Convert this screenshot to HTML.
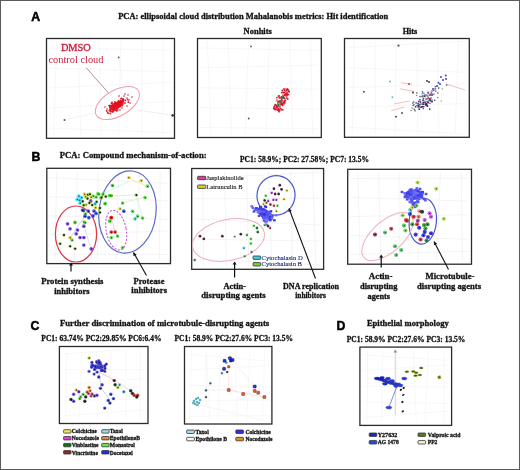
<!DOCTYPE html><html><head><meta charset="utf-8"><style>html,body{margin:0;padding:0;background:#fff;overflow:hidden}svg{display:block;will-change:transform;filter:blur(0.3px)}</style></head><body>
<svg width="520" height="470" viewBox="0 0 520 470">
<rect x="0" y="0" width="520" height="470" fill="#fff"/>
<rect x="0.5" y="0.5" width="519" height="469" fill="none" stroke="#5a5a5a" stroke-width="1"/>
<text x="31.3" y="21.3" font-size="12.3" font-weight="bold" fill="#000" font-family='"Liberation Sans", sans-serif' text-anchor="start" stroke="#000" stroke-width="0.5">A</text>
<text x="118.2" y="18.5" font-size="8.5" font-weight="bold" fill="#111" font-family='"Liberation Serif", serif' text-anchor="start" textLength="270.0" lengthAdjust="spacingAndGlyphs" stroke="#111" stroke-width="0.3">PCA: ellipsoidal cloud distribution Mahalanobis metrics: Hit identification</text>
<text x="243.6" y="34.3" font-size="8.5" font-weight="bold" fill="#111" font-family='"Liberation Serif", serif' text-anchor="start" textLength="28.2" lengthAdjust="spacingAndGlyphs" stroke="#111" stroke-width="0.3">Nonhits</text>
<text x="402.7" y="34.3" font-size="8.5" font-weight="bold" fill="#111" font-family='"Liberation Serif", serif' text-anchor="start" textLength="14.6" lengthAdjust="spacingAndGlyphs" stroke="#111" stroke-width="0.3">Hits</text>
<line x1="56.7" y1="41" x2="53.7" y2="135" stroke="#f2f2f2" stroke-width="0.6"/>
<line x1="78.0" y1="41" x2="80.8" y2="135" stroke="#f2f2f2" stroke-width="0.6"/>
<line x1="99.3" y1="41" x2="101.4" y2="135" stroke="#f2f2f2" stroke-width="0.6"/>
<line x1="120.7" y1="41" x2="118.7" y2="135" stroke="#f2f2f2" stroke-width="0.6"/>
<line x1="142.0" y1="41" x2="142.0" y2="135" stroke="#f2f2f2" stroke-width="0.6"/>
<line x1="163.3" y1="41" x2="162.9" y2="135" stroke="#f2f2f2" stroke-width="0.6"/>
<line x1="49" y1="48.0" x2="171" y2="50.1" stroke="#f2f2f2" stroke-width="0.6"/>
<line x1="49" y1="68.0" x2="171" y2="72.0" stroke="#f2f2f2" stroke-width="0.6"/>
<line x1="49" y1="88.0" x2="171" y2="82.3" stroke="#f2f2f2" stroke-width="0.6"/>
<line x1="49" y1="108.0" x2="171" y2="101.4" stroke="#f2f2f2" stroke-width="0.6"/>
<line x1="49" y1="128.0" x2="171" y2="132.7" stroke="#f2f2f2" stroke-width="0.6"/>
<rect x="46.5" y="38.5" width="128.0" height="99.8" fill="none" stroke="#2b2b2b" stroke-width="1.3"/>
<text x="60.9" y="50.6" font-size="10.4" font-weight="normal" fill="#c8203c" font-family='"Liberation Serif", serif' text-anchor="start" textLength="29.9" lengthAdjust="spacingAndGlyphs" stroke="#c8203c" stroke-width="0.35">DMSO</text>
<text x="48.4" y="63.4" font-size="10.4" font-weight="normal" fill="#c8203c" font-family='"Liberation Serif", serif' text-anchor="start" textLength="55.1" lengthAdjust="spacingAndGlyphs">control cloud</text>
<line x1="86" y1="67.5" x2="108.5" y2="93" stroke="#b07080" stroke-width="0.8" opacity="1"/>
<ellipse cx="117.4" cy="103" rx="24.3" ry="13" transform="rotate(-30 117.4 103)" fill="none" stroke="#eaa0b0" stroke-width="1.0"/>
<ellipse cx="116.5" cy="105.5" rx="8" ry="3.3" transform="rotate(-32 116.5 105.5)" fill="#e0101c"/>
<circle cx="110.2" cy="106.4" r="0.9" fill="#e82030" opacity="1"/>
<circle cx="123.5" cy="99.5" r="0.9" fill="#e82030" opacity="1"/>
<circle cx="122.4" cy="102.2" r="0.9" fill="#e0101c" opacity="1"/>
<circle cx="109.1" cy="105.6" r="0.9" fill="#e0101c" opacity="1"/>
<circle cx="112.1" cy="111.7" r="0.9" fill="#d81020" opacity="1"/>
<circle cx="110.7" cy="108.0" r="0.9" fill="#e0101c" opacity="1"/>
<circle cx="115.3" cy="103.5" r="0.9" fill="#e0101c" opacity="1"/>
<circle cx="122.9" cy="99.2" r="0.9" fill="#e0101c" opacity="1"/>
<circle cx="116.7" cy="104.2" r="0.9" fill="#e82030" opacity="1"/>
<circle cx="114.8" cy="105.5" r="0.9" fill="#e0101c" opacity="1"/>
<circle cx="117.5" cy="104.7" r="0.9" fill="#e0101c" opacity="1"/>
<circle cx="119.6" cy="103.0" r="0.9" fill="#e0101c" opacity="1"/>
<circle cx="116.6" cy="110.9" r="0.9" fill="#e82030" opacity="1"/>
<circle cx="120.6" cy="100.3" r="0.9" fill="#e0101c" opacity="1"/>
<circle cx="123.0" cy="99.9" r="0.9" fill="#d81020" opacity="1"/>
<circle cx="116.7" cy="107.4" r="0.9" fill="#e0101c" opacity="1"/>
<circle cx="120.0" cy="102.4" r="0.9" fill="#d81020" opacity="1"/>
<circle cx="116.4" cy="108.6" r="0.9" fill="#e0101c" opacity="1"/>
<circle cx="110.0" cy="107.2" r="0.9" fill="#e0101c" opacity="1"/>
<circle cx="115.7" cy="110.0" r="0.9" fill="#d81020" opacity="1"/>
<circle cx="115.3" cy="104.5" r="0.9" fill="#d81020" opacity="1"/>
<circle cx="116.2" cy="104.7" r="0.9" fill="#e0101c" opacity="1"/>
<circle cx="120.8" cy="101.9" r="0.9" fill="#d81020" opacity="1"/>
<circle cx="125.4" cy="100.3" r="0.9" fill="#d81020" opacity="1"/>
<circle cx="112.1" cy="111.4" r="0.9" fill="#d81020" opacity="1"/>
<circle cx="120.0" cy="103.6" r="0.9" fill="#e0101c" opacity="1"/>
<circle cx="120.1" cy="104.3" r="0.9" fill="#d81020" opacity="1"/>
<circle cx="115.4" cy="107.9" r="0.9" fill="#e82030" opacity="1"/>
<circle cx="118.2" cy="107.0" r="0.9" fill="#e82030" opacity="1"/>
<circle cx="114.9" cy="101.9" r="0.9" fill="#d81020" opacity="1"/>
<circle cx="127.8" cy="99.6" r="0.9" fill="#e0101c" opacity="1"/>
<circle cx="119.7" cy="106.2" r="0.9" fill="#d81020" opacity="1"/>
<circle cx="120.2" cy="101.9" r="0.9" fill="#e82030" opacity="1"/>
<circle cx="112.9" cy="107.0" r="0.9" fill="#d81020" opacity="1"/>
<circle cx="116.0" cy="109.8" r="0.9" fill="#e82030" opacity="1"/>
<circle cx="122.6" cy="104.5" r="0.9" fill="#d81020" opacity="1"/>
<circle cx="118.1" cy="105.0" r="0.9" fill="#e82030" opacity="1"/>
<circle cx="112.1" cy="107.5" r="0.9" fill="#e0101c" opacity="1"/>
<circle cx="115.7" cy="103.5" r="0.9" fill="#d81020" opacity="1"/>
<circle cx="112.6" cy="108.4" r="0.9" fill="#e0101c" opacity="1"/>
<circle cx="123.4" cy="100.5" r="0.9" fill="#d81020" opacity="1"/>
<circle cx="116.1" cy="107.0" r="0.9" fill="#e82030" opacity="1"/>
<circle cx="114.5" cy="106.1" r="0.9" fill="#d81020" opacity="1"/>
<circle cx="121.6" cy="103.7" r="0.9" fill="#e0101c" opacity="1"/>
<circle cx="122.0" cy="102.8" r="0.9" fill="#e0101c" opacity="1"/>
<circle cx="108.1" cy="113.3" r="0.9" fill="#e0101c" opacity="1"/>
<circle cx="121.9" cy="101.5" r="0.9" fill="#d81020" opacity="1"/>
<circle cx="114.6" cy="104.5" r="0.9" fill="#d81020" opacity="1"/>
<circle cx="116.9" cy="107.5" r="0.9" fill="#e0101c" opacity="1"/>
<circle cx="124.9" cy="103.0" r="0.9" fill="#e82030" opacity="1"/>
<circle cx="123.0" cy="100.4" r="0.9" fill="#d81020" opacity="1"/>
<circle cx="118.5" cy="102.9" r="0.9" fill="#d81020" opacity="1"/>
<circle cx="117.8" cy="108.8" r="0.9" fill="#e82030" opacity="1"/>
<circle cx="113.2" cy="110.7" r="0.9" fill="#d81020" opacity="1"/>
<circle cx="113.1" cy="104.0" r="0.9" fill="#d81020" opacity="1"/>
<circle cx="113.6" cy="110.1" r="0.9" fill="#d81020" opacity="1"/>
<circle cx="118.1" cy="102.6" r="0.9" fill="#e82030" opacity="1"/>
<circle cx="112.0" cy="102.5" r="0.9" fill="#d81020" opacity="1"/>
<circle cx="112.2" cy="105.4" r="0.9" fill="#e0101c" opacity="1"/>
<circle cx="109.4" cy="110.5" r="0.9" fill="#d81020" opacity="1"/>
<circle cx="113.4" cy="104.8" r="0.9" fill="#e82030" opacity="1"/>
<circle cx="110.4" cy="105.6" r="0.9" fill="#d81020" opacity="1"/>
<circle cx="117.4" cy="107.0" r="0.9" fill="#d81020" opacity="1"/>
<circle cx="113.5" cy="111.1" r="0.9" fill="#e82030" opacity="1"/>
<circle cx="113.1" cy="108.2" r="0.9" fill="#d81020" opacity="1"/>
<circle cx="111.2" cy="108.3" r="0.9" fill="#e0101c" opacity="1"/>
<circle cx="119.4" cy="105.7" r="0.9" fill="#d81020" opacity="1"/>
<circle cx="117.1" cy="105.9" r="0.9" fill="#e82030" opacity="1"/>
<circle cx="116.0" cy="104.1" r="0.9" fill="#e82030" opacity="1"/>
<circle cx="106.6" cy="110.9" r="0.9" fill="#d81020" opacity="1"/>
<circle cx="109.9" cy="106.4" r="0.9" fill="#e82030" opacity="1"/>
<circle cx="117.5" cy="110.3" r="0.9" fill="#e0101c" opacity="1"/>
<circle cx="120.7" cy="104.9" r="0.9" fill="#e82030" opacity="1"/>
<circle cx="122.0" cy="105.7" r="0.9" fill="#e0101c" opacity="1"/>
<circle cx="115.8" cy="105.2" r="0.9" fill="#d81020" opacity="1"/>
<circle cx="119.7" cy="103.1" r="0.9" fill="#e0101c" opacity="1"/>
<circle cx="128.3" cy="102.1" r="0.9" fill="#d81020" opacity="1"/>
<circle cx="117.7" cy="105.2" r="0.9" fill="#d81020" opacity="1"/>
<circle cx="114.2" cy="109.7" r="0.9" fill="#e0101c" opacity="1"/>
<circle cx="113.7" cy="106.1" r="0.9" fill="#d81020" opacity="1"/>
<circle cx="121.8" cy="102.0" r="0.9" fill="#d81020" opacity="1"/>
<circle cx="121.0" cy="98.6" r="0.9" fill="#e82030" opacity="1"/>
<circle cx="118.3" cy="102.1" r="0.9" fill="#e0101c" opacity="1"/>
<circle cx="113.0" cy="106.9" r="0.9" fill="#d81020" opacity="1"/>
<circle cx="112.6" cy="107.1" r="0.9" fill="#e82030" opacity="1"/>
<circle cx="116.8" cy="107.3" r="0.9" fill="#e0101c" opacity="1"/>
<circle cx="110.5" cy="111.2" r="0.9" fill="#e82030" opacity="1"/>
<circle cx="111.6" cy="107.7" r="0.9" fill="#e0101c" opacity="1"/>
<circle cx="111.2" cy="106.8" r="0.9" fill="#e0101c" opacity="1"/>
<circle cx="123.0" cy="100.6" r="0.9" fill="#d81020" opacity="1"/>
<circle cx="118.5" cy="100.8" r="0.9" fill="#d81020" opacity="1"/>
<circle cx="122.6" cy="103.5" r="0.9" fill="#e82030" opacity="1"/>
<circle cx="112.7" cy="107.1" r="0.9" fill="#e82030" opacity="1"/>
<circle cx="114.3" cy="108.5" r="0.9" fill="#e0101c" opacity="1"/>
<circle cx="111.7" cy="108.4" r="0.9" fill="#e82030" opacity="1"/>
<circle cx="110.3" cy="113.5" r="0.9" fill="#e0101c" opacity="1"/>
<circle cx="113.5" cy="106.1" r="0.9" fill="#d81020" opacity="1"/>
<circle cx="112.2" cy="108.1" r="0.9" fill="#d81020" opacity="1"/>
<circle cx="120.4" cy="102.1" r="0.9" fill="#d81020" opacity="1"/>
<circle cx="117.8" cy="104.9" r="0.9" fill="#e82030" opacity="1"/>
<circle cx="112.5" cy="105.9" r="0.9" fill="#d81020" opacity="1"/>
<circle cx="119.6" cy="103.7" r="0.9" fill="#d81020" opacity="1"/>
<circle cx="122.8" cy="101.6" r="0.9" fill="#d81020" opacity="1"/>
<circle cx="118.5" cy="106.9" r="0.9" fill="#e0101c" opacity="1"/>
<circle cx="118.0" cy="106.3" r="0.9" fill="#e0101c" opacity="1"/>
<circle cx="115.4" cy="104.0" r="0.9" fill="#d81020" opacity="1"/>
<circle cx="112.1" cy="106.3" r="0.9" fill="#e82030" opacity="1"/>
<circle cx="121.6" cy="98.3" r="0.9" fill="#e0101c" opacity="1"/>
<circle cx="119.5" cy="103.6" r="0.9" fill="#d81020" opacity="1"/>
<circle cx="112.7" cy="107.2" r="0.9" fill="#d81020" opacity="1"/>
<circle cx="116.6" cy="104.7" r="0.9" fill="#d81020" opacity="1"/>
<circle cx="113.5" cy="110.4" r="0.9" fill="#e82030" opacity="1"/>
<circle cx="117.3" cy="105.0" r="0.9" fill="#e82030" opacity="1"/>
<circle cx="107.7" cy="112.3" r="0.9" fill="#e82030" opacity="1"/>
<circle cx="116.2" cy="105.4" r="0.9" fill="#d81020" opacity="1"/>
<circle cx="110.1" cy="107.2" r="0.9" fill="#e82030" opacity="1"/>
<circle cx="109.8" cy="105.6" r="0.9" fill="#d81020" opacity="1"/>
<circle cx="110.3" cy="109.8" r="0.9" fill="#e82030" opacity="1"/>
<circle cx="119.2" cy="105.6" r="0.9" fill="#e0101c" opacity="1"/>
<circle cx="117.0" cy="105.2" r="0.9" fill="#d81020" opacity="1"/>
<circle cx="110.3" cy="107.4" r="0.9" fill="#d81020" opacity="1"/>
<circle cx="118.9" cy="103.1" r="0.9" fill="#d81020" opacity="1"/>
<circle cx="111.5" cy="103.5" r="0.9" fill="#d81020" opacity="1"/>
<circle cx="112.0" cy="107.5" r="0.9" fill="#e82030" opacity="1"/>
<circle cx="117.3" cy="104.0" r="0.9" fill="#e0101c" opacity="1"/>
<circle cx="117.3" cy="105.9" r="0.9" fill="#e0101c" opacity="1"/>
<circle cx="116.2" cy="105.0" r="0.9" fill="#e82030" opacity="1"/>
<circle cx="115.6" cy="106.3" r="0.9" fill="#d81020" opacity="1"/>
<circle cx="116.2" cy="104.7" r="0.9" fill="#e0101c" opacity="1"/>
<circle cx="119.9" cy="106.7" r="0.9" fill="#e0101c" opacity="1"/>
<circle cx="124.0" cy="96.0" r="0.8" fill="#d02030" opacity="1"/>
<circle cx="127.0" cy="98.0" r="0.8" fill="#d02030" opacity="1"/>
<circle cx="129.0" cy="100.0" r="0.8" fill="#d02030" opacity="1"/>
<circle cx="125.0" cy="94.0" r="0.8" fill="#d02030" opacity="1"/>
<circle cx="119.0" cy="96.0" r="0.8" fill="#d02030" opacity="1"/>
<circle cx="122.0" cy="108.0" r="0.8" fill="#d02030" opacity="1"/>
<circle cx="110.0" cy="110.0" r="0.8" fill="#d02030" opacity="1"/>
<circle cx="107.0" cy="109.0" r="0.8" fill="#d02030" opacity="1"/>
<circle cx="130.0" cy="103.0" r="0.8" fill="#d02030" opacity="1"/>
<circle cx="127.0" cy="106.0" r="0.8" fill="#d02030" opacity="1"/>
<circle cx="113.0" cy="112.0" r="0.8" fill="#d02030" opacity="1"/>
<circle cx="120.0" cy="110.0" r="0.8" fill="#d02030" opacity="1"/>
<circle cx="132.0" cy="97.0" r="0.8" fill="#d02030" opacity="1"/>
<circle cx="128.0" cy="95.0" r="0.8" fill="#d02030" opacity="1"/>
<circle cx="105.0" cy="107.0" r="0.8" fill="#d02030" opacity="1"/>
<line x1="172.7" y1="115.4" x2="138" y2="110" stroke="#e6e6e6" stroke-width="0.7" opacity="1"/>
<line x1="118.7" y1="57.4" x2="122" y2="80" stroke="#ececec" stroke-width="0.6" opacity="1"/>
<line x1="64.5" y1="120" x2="95" y2="113" stroke="#ececec" stroke-width="0.6" opacity="1"/>
<circle cx="118.7" cy="57.4" r="0.9" fill="#555" opacity="1"/>
<circle cx="64.5" cy="120.0" r="1.0" fill="#555" opacity="1"/>
<circle cx="172.7" cy="115.4" r="1.4" fill="#444" opacity="1"/>
<line x1="207.3" y1="41" x2="211.0" y2="134.5" stroke="#f2f2f2" stroke-width="0.6"/>
<line x1="228.0" y1="41" x2="231.6" y2="134.5" stroke="#f2f2f2" stroke-width="0.6"/>
<line x1="248.7" y1="41" x2="245.1" y2="134.5" stroke="#f2f2f2" stroke-width="0.6"/>
<line x1="269.3" y1="41" x2="266.0" y2="134.5" stroke="#f2f2f2" stroke-width="0.6"/>
<line x1="290.0" y1="41" x2="292.7" y2="134.5" stroke="#f2f2f2" stroke-width="0.6"/>
<line x1="310.7" y1="41" x2="312.6" y2="134.5" stroke="#f2f2f2" stroke-width="0.6"/>
<line x1="200" y1="48.0" x2="318" y2="50.3" stroke="#f2f2f2" stroke-width="0.6"/>
<line x1="200" y1="67.8" x2="318" y2="65.2" stroke="#f2f2f2" stroke-width="0.6"/>
<line x1="200" y1="87.8" x2="318" y2="89.2" stroke="#f2f2f2" stroke-width="0.6"/>
<line x1="200" y1="107.6" x2="318" y2="109.1" stroke="#f2f2f2" stroke-width="0.6"/>
<line x1="200" y1="127.5" x2="318" y2="128.7" stroke="#f2f2f2" stroke-width="0.6"/>
<rect x="197.5" y="38.5" width="123.8" height="99.0" fill="none" stroke="#2b2b2b" stroke-width="1.3"/>
<circle cx="281.7" cy="104.6" r="0.85" fill="#e0102c" opacity="1"/>
<circle cx="288.6" cy="94.5" r="0.85" fill="#e0102c" opacity="1"/>
<circle cx="282.8" cy="104.0" r="0.85" fill="#e0102c" opacity="1"/>
<circle cx="277.9" cy="109.2" r="0.85" fill="#e02040" opacity="1"/>
<circle cx="278.6" cy="110.0" r="0.85" fill="#d01028" opacity="1"/>
<circle cx="278.7" cy="108.5" r="0.85" fill="#d81030" opacity="1"/>
<circle cx="283.3" cy="96.9" r="0.85" fill="#d01028" opacity="1"/>
<circle cx="280.6" cy="102.0" r="0.85" fill="#d81030" opacity="1"/>
<circle cx="277.6" cy="110.1" r="0.85" fill="#d81030" opacity="1"/>
<circle cx="281.5" cy="98.5" r="0.85" fill="#d01028" opacity="1"/>
<circle cx="280.4" cy="104.3" r="0.85" fill="#d01028" opacity="1"/>
<circle cx="282.0" cy="97.9" r="0.85" fill="#d81030" opacity="1"/>
<circle cx="280.0" cy="102.3" r="0.85" fill="#e0102c" opacity="1"/>
<circle cx="283.5" cy="97.4" r="0.85" fill="#e02040" opacity="1"/>
<circle cx="283.0" cy="95.4" r="0.85" fill="#d01028" opacity="1"/>
<circle cx="288.3" cy="91.5" r="0.85" fill="#c01830" opacity="1"/>
<circle cx="280.6" cy="104.7" r="0.85" fill="#d81030" opacity="1"/>
<circle cx="274.1" cy="107.2" r="0.85" fill="#c01830" opacity="1"/>
<circle cx="284.8" cy="100.7" r="0.85" fill="#c01830" opacity="1"/>
<circle cx="281.4" cy="96.5" r="0.85" fill="#e0102c" opacity="1"/>
<circle cx="274.6" cy="106.4" r="0.85" fill="#d81030" opacity="1"/>
<circle cx="289.3" cy="91.8" r="0.85" fill="#e02040" opacity="1"/>
<circle cx="274.8" cy="108.8" r="0.85" fill="#d01028" opacity="1"/>
<circle cx="282.9" cy="92.3" r="0.85" fill="#c01830" opacity="1"/>
<circle cx="278.9" cy="102.6" r="0.85" fill="#e02040" opacity="1"/>
<circle cx="278.7" cy="110.1" r="0.85" fill="#e0102c" opacity="1"/>
<circle cx="284.9" cy="89.1" r="0.85" fill="#e0102c" opacity="1"/>
<circle cx="285.6" cy="95.4" r="0.85" fill="#c01830" opacity="1"/>
<circle cx="287.8" cy="98.9" r="0.85" fill="#c01830" opacity="1"/>
<circle cx="284.8" cy="95.4" r="0.85" fill="#e83050" opacity="1"/>
<circle cx="282.1" cy="104.2" r="0.85" fill="#d01028" opacity="1"/>
<circle cx="276.8" cy="107.7" r="0.85" fill="#e0102c" opacity="1"/>
<circle cx="278.0" cy="105.5" r="0.85" fill="#e02040" opacity="1"/>
<circle cx="284.0" cy="104.0" r="0.85" fill="#e02040" opacity="1"/>
<circle cx="274.6" cy="107.5" r="0.85" fill="#d81030" opacity="1"/>
<circle cx="287.0" cy="93.7" r="0.85" fill="#d01028" opacity="1"/>
<circle cx="277.9" cy="103.8" r="0.85" fill="#e02040" opacity="1"/>
<circle cx="288.9" cy="90.9" r="0.85" fill="#d81030" opacity="1"/>
<circle cx="278.7" cy="109.7" r="0.85" fill="#e0102c" opacity="1"/>
<circle cx="284.4" cy="101.6" r="0.85" fill="#d01028" opacity="1"/>
<circle cx="278.1" cy="106.6" r="0.85" fill="#d01028" opacity="1"/>
<circle cx="281.7" cy="103.3" r="0.85" fill="#d01028" opacity="1"/>
<circle cx="282.7" cy="105.3" r="0.85" fill="#d01028" opacity="1"/>
<circle cx="287.0" cy="98.3" r="0.85" fill="#e83050" opacity="1"/>
<circle cx="279.5" cy="110.9" r="0.85" fill="#e83050" opacity="1"/>
<circle cx="283.9" cy="92.6" r="0.85" fill="#e02040" opacity="1"/>
<circle cx="279.2" cy="101.2" r="0.85" fill="#e02040" opacity="1"/>
<circle cx="278.2" cy="110.0" r="0.85" fill="#e0102c" opacity="1"/>
<circle cx="287.4" cy="89.3" r="0.85" fill="#d01028" opacity="1"/>
<circle cx="277.0" cy="109.6" r="0.85" fill="#e0102c" opacity="1"/>
<circle cx="278.4" cy="96.0" r="0.85" fill="#d01028" opacity="1"/>
<circle cx="275.2" cy="109.4" r="0.85" fill="#d81030" opacity="1"/>
<circle cx="284.6" cy="98.1" r="0.85" fill="#c01830" opacity="1"/>
<circle cx="284.7" cy="98.5" r="0.85" fill="#e02040" opacity="1"/>
<circle cx="281.2" cy="109.9" r="0.85" fill="#e02040" opacity="1"/>
<circle cx="276.9" cy="97.6" r="0.85" fill="#c01830" opacity="1"/>
<circle cx="278.5" cy="109.5" r="0.85" fill="#c01830" opacity="1"/>
<circle cx="283.1" cy="101.0" r="0.85" fill="#e83050" opacity="1"/>
<circle cx="282.8" cy="109.7" r="0.85" fill="#d01028" opacity="1"/>
<circle cx="281.2" cy="103.3" r="0.85" fill="#e83050" opacity="1"/>
<circle cx="285.2" cy="100.4" r="0.85" fill="#e83050" opacity="1"/>
<circle cx="287.2" cy="92.6" r="0.85" fill="#e83050" opacity="1"/>
<circle cx="282.3" cy="90.4" r="0.85" fill="#c01830" opacity="1"/>
<circle cx="285.2" cy="94.0" r="0.85" fill="#d01028" opacity="1"/>
<circle cx="280.0" cy="97.6" r="0.85" fill="#d01028" opacity="1"/>
<circle cx="286.1" cy="93.4" r="0.85" fill="#d81030" opacity="1"/>
<circle cx="287.4" cy="94.3" r="0.85" fill="#d81030" opacity="1"/>
<circle cx="275.5" cy="104.7" r="0.85" fill="#e02040" opacity="1"/>
<circle cx="280.9" cy="103.3" r="0.85" fill="#c01830" opacity="1"/>
<circle cx="282.0" cy="100.6" r="0.85" fill="#d81030" opacity="1"/>
<circle cx="286.7" cy="97.1" r="0.85" fill="#e83050" opacity="1"/>
<circle cx="287.8" cy="89.4" r="0.85" fill="#c01830" opacity="1"/>
<circle cx="278.8" cy="109.8" r="0.85" fill="#c01830" opacity="1"/>
<circle cx="279.9" cy="106.9" r="0.85" fill="#d01028" opacity="1"/>
<circle cx="288.2" cy="89.8" r="0.85" fill="#e83050" opacity="1"/>
<circle cx="280.2" cy="103.2" r="0.85" fill="#e83050" opacity="1"/>
<circle cx="274.7" cy="107.5" r="0.85" fill="#e83050" opacity="1"/>
<circle cx="281.7" cy="92.7" r="0.85" fill="#e02040" opacity="1"/>
<circle cx="284.5" cy="90.4" r="0.85" fill="#e0102c" opacity="1"/>
<circle cx="287.1" cy="94.3" r="0.85" fill="#e83050" opacity="1"/>
<circle cx="277.0" cy="100.1" r="0.85" fill="#e83050" opacity="1"/>
<circle cx="280.8" cy="108.7" r="0.85" fill="#d81030" opacity="1"/>
<circle cx="274.5" cy="108.9" r="0.85" fill="#e83050" opacity="1"/>
<circle cx="276.6" cy="106.8" r="0.85" fill="#d01028" opacity="1"/>
<circle cx="287.2" cy="89.4" r="0.85" fill="#d01028" opacity="1"/>
<circle cx="281.3" cy="98.1" r="0.85" fill="#e0102c" opacity="1"/>
<circle cx="279.0" cy="111.7" r="0.85" fill="#d01028" opacity="1"/>
<circle cx="284.8" cy="94.5" r="0.85" fill="#d81030" opacity="1"/>
<circle cx="284.0" cy="102.8" r="0.85" fill="#d81030" opacity="1"/>
<circle cx="273.7" cy="108.5" r="0.85" fill="#d81030" opacity="1"/>
<circle cx="279.8" cy="104.4" r="0.85" fill="#c01830" opacity="1"/>
<circle cx="285.4" cy="100.5" r="0.85" fill="#d81030" opacity="1"/>
<circle cx="276.5" cy="109.1" r="0.85" fill="#e83050" opacity="1"/>
<circle cx="279.1" cy="95.9" r="0.85" fill="#d01028" opacity="1"/>
<circle cx="283.3" cy="102.8" r="0.85" fill="#d01028" opacity="1"/>
<circle cx="276.7" cy="106.7" r="0.85" fill="#d01028" opacity="1"/>
<circle cx="275.1" cy="109.5" r="0.85" fill="#e0102c" opacity="1"/>
<circle cx="286.2" cy="94.5" r="0.85" fill="#d81030" opacity="1"/>
<circle cx="275.0" cy="105.2" r="0.85" fill="#d01028" opacity="1"/>
<circle cx="277.3" cy="109.5" r="0.85" fill="#e83050" opacity="1"/>
<circle cx="279.2" cy="97.8" r="0.85" fill="#e0102c" opacity="1"/>
<circle cx="285.9" cy="91.3" r="0.85" fill="#e0102c" opacity="1"/>
<circle cx="278.5" cy="105.0" r="0.85" fill="#d01028" opacity="1"/>
<circle cx="285.0" cy="102.8" r="0.85" fill="#e0102c" opacity="1"/>
<circle cx="287.3" cy="95.5" r="0.85" fill="#d01028" opacity="1"/>
<circle cx="287.0" cy="89.4" r="0.85" fill="#d01028" opacity="1"/>
<circle cx="281.6" cy="99.3" r="0.85" fill="#d01028" opacity="1"/>
<circle cx="284.1" cy="92.4" r="0.85" fill="#d01028" opacity="1"/>
<circle cx="286.5" cy="90.0" r="0.85" fill="#c01830" opacity="1"/>
<circle cx="283.7" cy="89.0" r="0.85" fill="#d81030" opacity="1"/>
<circle cx="282.9" cy="97.3" r="0.8" fill="#1a6060" opacity="1"/>
<circle cx="278.9" cy="101.8" r="0.8" fill="#3a8040" opacity="1"/>
<circle cx="281.9" cy="97.2" r="0.8" fill="#3a8040" opacity="1"/>
<circle cx="282.8" cy="95.4" r="0.8" fill="#a0a020" opacity="1"/>
<circle cx="283.4" cy="96.5" r="0.8" fill="#207050" opacity="1"/>
<circle cx="277.4" cy="101.9" r="0.8" fill="#3a8040" opacity="1"/>
<circle cx="277.5" cy="104.6" r="0.8" fill="#a0a020" opacity="1"/>
<circle cx="279.8" cy="101.7" r="0.8" fill="#a0a020" opacity="1"/>
<circle cx="276.7" cy="105.4" r="0.8" fill="#207050" opacity="1"/>
<circle cx="279.1" cy="101.7" r="0.8" fill="#207050" opacity="1"/>
<circle cx="278.6" cy="104.4" r="0.8" fill="#207050" opacity="1"/>
<circle cx="277.7" cy="106.7" r="0.8" fill="#3a8040" opacity="1"/>
<circle cx="279.6" cy="103.6" r="0.8" fill="#a0a020" opacity="1"/>
<circle cx="279.0" cy="101.4" r="0.8" fill="#1a6060" opacity="1"/>
<circle cx="282.0" cy="98.6" r="0.8" fill="#3a8040" opacity="1"/>
<circle cx="281.7" cy="102.2" r="0.8" fill="#207050" opacity="1"/>
<circle cx="283.7" cy="98.2" r="0.8" fill="#207050" opacity="1"/>
<circle cx="279.1" cy="103.2" r="0.8" fill="#c0b030" opacity="1"/>
<circle cx="280.9" cy="100.9" r="0.8" fill="#207050" opacity="1"/>
<circle cx="280.7" cy="100.7" r="0.8" fill="#3a8040" opacity="1"/>
<circle cx="279.8" cy="104.8" r="0.8" fill="#a0a020" opacity="1"/>
<circle cx="280.9" cy="101.1" r="0.8" fill="#3a8040" opacity="1"/>
<circle cx="251.0" cy="46.4" r="0.9" fill="#555" opacity="1"/>
<circle cx="248.7" cy="118.5" r="0.9" fill="#555" opacity="1"/>
<line x1="354.4" y1="41" x2="352.3" y2="134" stroke="#f2f2f2" stroke-width="0.6"/>
<line x1="375.2" y1="41" x2="375.6" y2="134" stroke="#f2f2f2" stroke-width="0.6"/>
<line x1="396.1" y1="41" x2="395.0" y2="134" stroke="#f2f2f2" stroke-width="0.6"/>
<line x1="416.9" y1="41" x2="417.7" y2="134" stroke="#f2f2f2" stroke-width="0.6"/>
<line x1="437.8" y1="41" x2="438.8" y2="134" stroke="#f2f2f2" stroke-width="0.6"/>
<line x1="458.6" y1="41" x2="455.1" y2="134" stroke="#f2f2f2" stroke-width="0.6"/>
<line x1="347" y1="47.9" x2="466" y2="41.1" stroke="#f2f2f2" stroke-width="0.6"/>
<line x1="347" y1="67.7" x2="466" y2="72.4" stroke="#f2f2f2" stroke-width="0.6"/>
<line x1="347" y1="87.5" x2="466" y2="84.1" stroke="#f2f2f2" stroke-width="0.6"/>
<line x1="347" y1="107.3" x2="466" y2="103.6" stroke="#f2f2f2" stroke-width="0.6"/>
<line x1="347" y1="127.1" x2="466" y2="134.0" stroke="#f2f2f2" stroke-width="0.6"/>
<rect x="344.5" y="38.5" width="124.8" height="98.8" fill="none" stroke="#2b2b2b" stroke-width="1.3"/>
<line x1="400.9" y1="82.8" x2="412" y2="84" stroke="#f0a0a8" stroke-width="0.7" opacity="1"/>
<line x1="399.7" y1="88.8" x2="414" y2="91.3" stroke="#f0a0a8" stroke-width="0.7" opacity="1"/>
<line x1="391.2" y1="110.6" x2="404.5" y2="107" stroke="#f0a0a8" stroke-width="0.7" opacity="1"/>
<line x1="394" y1="104" x2="410" y2="101" stroke="#f0a0a8" stroke-width="0.7" opacity="1"/>
<line x1="446" y1="84" x2="465" y2="90" stroke="#f0a0a8" stroke-width="0.7" opacity="1"/>
<circle cx="414.0" cy="104.5" r="0.8" fill="#5060c0" opacity="0.85"/>
<circle cx="411.1" cy="110.5" r="0.8" fill="#a040c0" opacity="0.85"/>
<circle cx="427.8" cy="96.5" r="0.8" fill="#6070d0" opacity="0.85"/>
<circle cx="435.3" cy="86.8" r="0.8" fill="#202050" opacity="0.85"/>
<circle cx="432.9" cy="93.6" r="0.8" fill="#d06080" opacity="0.85"/>
<circle cx="427.2" cy="105.4" r="0.8" fill="#404070" opacity="0.85"/>
<circle cx="425.5" cy="103.5" r="0.8" fill="#d06080" opacity="0.85"/>
<circle cx="431.6" cy="91.0" r="0.8" fill="#6070d0" opacity="0.85"/>
<circle cx="415.1" cy="110.7" r="0.8" fill="#202050" opacity="0.85"/>
<circle cx="413.2" cy="105.4" r="0.8" fill="#404070" opacity="0.85"/>
<circle cx="427.2" cy="95.4" r="0.8" fill="#5060c0" opacity="0.85"/>
<circle cx="446.7" cy="85.1" r="0.8" fill="#404070" opacity="0.85"/>
<circle cx="423.5" cy="98.6" r="0.8" fill="#202050" opacity="0.85"/>
<circle cx="422.5" cy="96.1" r="0.8" fill="#202050" opacity="0.85"/>
<circle cx="433.9" cy="94.3" r="0.8" fill="#5060c0" opacity="0.85"/>
<circle cx="417.3" cy="103.6" r="0.8" fill="#6070d0" opacity="0.85"/>
<circle cx="426.9" cy="99.5" r="0.8" fill="#6070d0" opacity="0.85"/>
<circle cx="421.0" cy="96.6" r="0.8" fill="#404070" opacity="0.85"/>
<circle cx="428.5" cy="98.5" r="0.8" fill="#202050" opacity="0.85"/>
<circle cx="432.5" cy="95.1" r="0.8" fill="#202050" opacity="0.85"/>
<circle cx="428.3" cy="100.8" r="0.8" fill="#6070d0" opacity="0.85"/>
<circle cx="420.2" cy="107.3" r="0.8" fill="#202050" opacity="0.85"/>
<circle cx="416.5" cy="102.9" r="0.8" fill="#5060c0" opacity="0.85"/>
<circle cx="424.0" cy="100.7" r="0.8" fill="#80c040" opacity="0.85"/>
<circle cx="419.5" cy="109.3" r="0.8" fill="#404070" opacity="0.85"/>
<circle cx="420.4" cy="100.0" r="0.8" fill="#a040c0" opacity="0.85"/>
<circle cx="413.8" cy="101.9" r="0.8" fill="#c03050" opacity="0.85"/>
<circle cx="432.2" cy="91.1" r="0.8" fill="#d06080" opacity="0.85"/>
<circle cx="428.3" cy="98.2" r="0.8" fill="#303030" opacity="0.85"/>
<circle cx="429.3" cy="95.5" r="0.8" fill="#5060c0" opacity="0.85"/>
<circle cx="419.1" cy="106.5" r="0.8" fill="#5060c0" opacity="0.85"/>
<circle cx="415.8" cy="107.2" r="0.8" fill="#d06080" opacity="0.85"/>
<circle cx="419.0" cy="109.1" r="0.8" fill="#202050" opacity="0.85"/>
<circle cx="424.6" cy="96.3" r="0.8" fill="#404070" opacity="0.85"/>
<circle cx="438.7" cy="88.1" r="0.8" fill="#202050" opacity="0.85"/>
<circle cx="419.0" cy="101.3" r="0.8" fill="#303030" opacity="0.85"/>
<circle cx="434.7" cy="100.2" r="0.8" fill="#202050" opacity="0.85"/>
<circle cx="426.0" cy="95.0" r="0.8" fill="#202050" opacity="0.85"/>
<circle cx="435.2" cy="88.9" r="0.8" fill="#303030" opacity="0.85"/>
<circle cx="423.3" cy="100.1" r="0.8" fill="#6070d0" opacity="0.85"/>
<circle cx="425.6" cy="99.1" r="0.8" fill="#d06080" opacity="0.85"/>
<circle cx="431.1" cy="98.0" r="0.8" fill="#303030" opacity="0.85"/>
<circle cx="428.9" cy="98.5" r="0.8" fill="#30a0a0" opacity="0.85"/>
<circle cx="432.0" cy="101.4" r="0.8" fill="#404070" opacity="0.85"/>
<circle cx="433.8" cy="90.5" r="0.8" fill="#303030" opacity="0.85"/>
<circle cx="418.4" cy="106.7" r="0.8" fill="#202050" opacity="0.85"/>
<circle cx="442.3" cy="88.9" r="0.8" fill="#80c040" opacity="0.85"/>
<circle cx="428.3" cy="98.1" r="0.8" fill="#c03050" opacity="0.85"/>
<circle cx="414.3" cy="109.3" r="0.8" fill="#303030" opacity="0.85"/>
<circle cx="422.2" cy="93.7" r="0.8" fill="#30a0a0" opacity="0.85"/>
<circle cx="419.7" cy="99.8" r="0.8" fill="#404070" opacity="0.85"/>
<circle cx="423.9" cy="93.4" r="0.8" fill="#5060c0" opacity="0.85"/>
<circle cx="435.8" cy="91.2" r="0.8" fill="#3030a0" opacity="0.85"/>
<circle cx="424.6" cy="95.1" r="0.8" fill="#5060c0" opacity="0.85"/>
<circle cx="418.5" cy="101.5" r="0.8" fill="#c03050" opacity="0.85"/>
<circle cx="423.0" cy="99.2" r="0.8" fill="#80c040" opacity="0.85"/>
<circle cx="417.2" cy="105.3" r="0.8" fill="#30a0a0" opacity="0.85"/>
<circle cx="428.2" cy="93.6" r="0.8" fill="#c03050" opacity="0.85"/>
<circle cx="426.6" cy="101.8" r="0.8" fill="#a040c0" opacity="0.85"/>
<circle cx="437.8" cy="97.6" r="0.8" fill="#a040c0" opacity="0.85"/>
<circle cx="419.4" cy="104.7" r="0.8" fill="#30a0a0" opacity="0.85"/>
<circle cx="426.6" cy="99.0" r="0.8" fill="#c03050" opacity="0.85"/>
<circle cx="423.9" cy="104.5" r="0.8" fill="#5060c0" opacity="0.85"/>
<circle cx="429.9" cy="103.2" r="0.8" fill="#3030a0" opacity="0.85"/>
<circle cx="415.4" cy="106.6" r="0.8" fill="#303030" opacity="0.85"/>
<circle cx="427.4" cy="105.8" r="0.8" fill="#30a0a0" opacity="0.85"/>
<circle cx="423.0" cy="97.5" r="0.8" fill="#80c040" opacity="0.85"/>
<circle cx="431.2" cy="95.3" r="0.8" fill="#404070" opacity="0.85"/>
<circle cx="425.3" cy="97.1" r="0.8" fill="#80c040" opacity="0.85"/>
<circle cx="423.3" cy="108.6" r="0.8" fill="#3030a0" opacity="0.85"/>
<circle cx="427.8" cy="92.5" r="0.8" fill="#c03050" opacity="0.85"/>
<circle cx="411.8" cy="108.0" r="0.8" fill="#80c040" opacity="0.85"/>
<circle cx="412.7" cy="103.0" r="0.8" fill="#303030" opacity="0.85"/>
<circle cx="412.6" cy="108.4" r="0.8" fill="#80c040" opacity="0.85"/>
<circle cx="428.4" cy="92.0" r="0.8" fill="#5060c0" opacity="0.85"/>
<circle cx="416.6" cy="95.5" r="0.8" fill="#6070d0" opacity="0.85"/>
<circle cx="417.8" cy="107.3" r="0.8" fill="#80c040" opacity="0.85"/>
<circle cx="424.4" cy="95.6" r="0.8" fill="#80c040" opacity="0.85"/>
<circle cx="431.1" cy="94.9" r="0.8" fill="#d06080" opacity="0.85"/>
<circle cx="429.5" cy="99.8" r="0.8" fill="#3030a0" opacity="0.85"/>
<circle cx="429.9" cy="98.6" r="0.8" fill="#202050" opacity="0.85"/>
<circle cx="420.9" cy="103.2" r="0.8" fill="#80c040" opacity="0.85"/>
<circle cx="430.2" cy="99.1" r="0.8" fill="#c03050" opacity="0.85"/>
<circle cx="431.0" cy="94.4" r="0.8" fill="#c03050" opacity="0.85"/>
<circle cx="431.2" cy="92.9" r="0.8" fill="#404070" opacity="0.85"/>
<circle cx="424.1" cy="96.0" r="0.8" fill="#404070" opacity="0.85"/>
<circle cx="430.0" cy="93.3" r="0.8" fill="#80c040" opacity="0.85"/>
<circle cx="428.3" cy="97.9" r="0.8" fill="#d06080" opacity="0.85"/>
<circle cx="416.6" cy="105.8" r="0.8" fill="#5060c0" opacity="0.85"/>
<circle cx="441.2" cy="101.1" r="0.8" fill="#80c040" opacity="0.85"/>
<circle cx="426.6" cy="104.0" r="0.8" fill="#6070d0" opacity="0.85"/>
<circle cx="427.8" cy="101.7" r="0.8" fill="#5060c0" opacity="0.85"/>
<circle cx="432.0" cy="100.0" r="0.8" fill="#3030a0" opacity="0.85"/>
<circle cx="435.6" cy="88.8" r="0.8" fill="#30a0a0" opacity="0.85"/>
<circle cx="425.1" cy="101.2" r="0.8" fill="#30a0a0" opacity="0.85"/>
<circle cx="428.1" cy="102.9" r="0.8" fill="#a040c0" opacity="0.85"/>
<circle cx="430.0" cy="94.9" r="0.8" fill="#404070" opacity="0.85"/>
<circle cx="430.5" cy="101.1" r="0.8" fill="#30a0a0" opacity="0.85"/>
<circle cx="418.7" cy="103.1" r="0.8" fill="#6070d0" opacity="0.85"/>
<circle cx="416.8" cy="93.0" r="0.8" fill="#303030" opacity="0.85"/>
<circle cx="423.9" cy="106.7" r="0.8" fill="#202050" opacity="0.85"/>
<circle cx="437.9" cy="92.9" r="0.8" fill="#c03050" opacity="0.85"/>
<circle cx="422.5" cy="91.9" r="0.8" fill="#3030a0" opacity="0.85"/>
<circle cx="426.5" cy="95.9" r="0.8" fill="#80c040" opacity="0.85"/>
<circle cx="418.4" cy="103.9" r="0.8" fill="#404070" opacity="0.85"/>
<circle cx="418.6" cy="106.6" r="0.8" fill="#202050" opacity="0.85"/>
<circle cx="424.5" cy="96.2" r="0.8" fill="#3030a0" opacity="0.85"/>
<circle cx="415.6" cy="103.0" r="0.8" fill="#d06080" opacity="0.85"/>
<circle cx="419.8" cy="96.5" r="0.8" fill="#5060c0" opacity="0.85"/>
<circle cx="420.0" cy="104.6" r="0.8" fill="#202050" opacity="0.85"/>
<circle cx="422.1" cy="104.1" r="0.9" fill="#404080" opacity="1"/>
<circle cx="423.5" cy="104.1" r="0.9" fill="#502040" opacity="1"/>
<circle cx="426.5" cy="104.4" r="0.9" fill="#502040" opacity="1"/>
<circle cx="421.5" cy="107.0" r="0.9" fill="#502040" opacity="1"/>
<circle cx="422.9" cy="106.6" r="0.9" fill="#502040" opacity="1"/>
<circle cx="429.6" cy="109.1" r="0.9" fill="#204040" opacity="1"/>
<circle cx="420.5" cy="102.1" r="0.9" fill="#502040" opacity="1"/>
<circle cx="425.8" cy="104.6" r="0.9" fill="#204040" opacity="1"/>
<circle cx="423.0" cy="100.4" r="0.9" fill="#404080" opacity="1"/>
<circle cx="431.9" cy="101.7" r="0.9" fill="#404080" opacity="1"/>
<circle cx="418.4" cy="105.7" r="0.9" fill="#204040" opacity="1"/>
<circle cx="425.0" cy="102.5" r="0.9" fill="#404080" opacity="1"/>
<circle cx="427.4" cy="106.2" r="0.9" fill="#502040" opacity="1"/>
<circle cx="428.0" cy="102.4" r="0.9" fill="#502040" opacity="1"/>
<circle cx="426.3" cy="105.1" r="0.9" fill="#303060" opacity="1"/>
<circle cx="426.0" cy="103.7" r="0.9" fill="#303060" opacity="1"/>
<circle cx="430.1" cy="100.4" r="0.9" fill="#204040" opacity="1"/>
<circle cx="423.3" cy="102.6" r="0.9" fill="#204040" opacity="1"/>
<circle cx="438.4" cy="82.8" r="1.0" fill="#4040d0" opacity="1"/>
<circle cx="443.0" cy="80.0" r="1.0" fill="#4040d0" opacity="1"/>
<circle cx="441.0" cy="77.0" r="1.0" fill="#4040d0" opacity="1"/>
<circle cx="445.7" cy="75.5" r="1.0" fill="#4040d0" opacity="1"/>
<circle cx="446.0" cy="79.0" r="1.0" fill="#4040d0" opacity="1"/>
<circle cx="437.0" cy="86.0" r="1.0" fill="#4040d0" opacity="1"/>
<circle cx="433.0" cy="89.0" r="1.0" fill="#4040d0" opacity="1"/>
<circle cx="440.0" cy="84.0" r="1.0" fill="#4040d0" opacity="1"/>
<circle cx="390.0" cy="81.6" r="1.0" fill="#60c0c0" opacity="1"/>
<circle cx="392.4" cy="97.3" r="1.0" fill="#60c0c0" opacity="1"/>
<circle cx="396.0" cy="116.7" r="1.0" fill="#505070" opacity="1"/>
<circle cx="402.0" cy="113.0" r="1.0" fill="#505070" opacity="1"/>
<circle cx="413.0" cy="92.5" r="1.0" fill="#503020" opacity="1"/>
<circle cx="409.0" cy="84.0" r="1.0" fill="#c04050" opacity="1"/>
<circle cx="427.0" cy="81.0" r="1.0" fill="#404040" opacity="1"/>
<circle cx="429.0" cy="82.0" r="1.0" fill="#404040" opacity="1"/>
<circle cx="398.5" cy="45.7" r="1.1" fill="#555" opacity="1"/>
<circle cx="363.9" cy="91.7" r="1.0" fill="#555" opacity="1"/>
<text x="31.4" y="160.8" font-size="12.3" font-weight="bold" fill="#000" font-family='"Liberation Sans", sans-serif' text-anchor="start" stroke="#000" stroke-width="0.5">B</text>
<text x="59.8" y="157.8" font-size="8.5" font-weight="bold" fill="#111" font-family='"Liberation Serif", serif' text-anchor="start" textLength="146.8" lengthAdjust="spacingAndGlyphs" stroke="#111" stroke-width="0.3">PCA: Compound mechanism-of-action:</text>
<text x="240.0" y="161.7" font-size="8.5" font-weight="bold" fill="#111" font-family='"Liberation Serif", serif' text-anchor="start" textLength="129.0" lengthAdjust="spacingAndGlyphs" stroke="#111" stroke-width="0.3">PC1: 58.9%; PC2: 27.58%; PC7: 13.5%</text>
<line x1="56.8" y1="171" x2="54.7" y2="260.5" stroke="#ececec" stroke-width="0.6"/>
<line x1="77.5" y1="171" x2="74.3" y2="260.5" stroke="#ececec" stroke-width="0.6"/>
<line x1="98.2" y1="171" x2="97.3" y2="260.5" stroke="#ececec" stroke-width="0.6"/>
<line x1="118.8" y1="171" x2="116.1" y2="260.5" stroke="#ececec" stroke-width="0.6"/>
<line x1="139.5" y1="171" x2="136.0" y2="260.5" stroke="#ececec" stroke-width="0.6"/>
<line x1="160.2" y1="171" x2="159.4" y2="260.5" stroke="#ececec" stroke-width="0.6"/>
<line x1="49.5" y1="177.6" x2="167.5" y2="183.4" stroke="#ececec" stroke-width="0.6"/>
<line x1="49.5" y1="196.7" x2="167.5" y2="200.9" stroke="#ececec" stroke-width="0.6"/>
<line x1="49.5" y1="215.8" x2="167.5" y2="219.5" stroke="#ececec" stroke-width="0.6"/>
<line x1="49.5" y1="234.8" x2="167.5" y2="231.0" stroke="#ececec" stroke-width="0.6"/>
<line x1="49.5" y1="253.9" x2="167.5" y2="254.5" stroke="#ececec" stroke-width="0.6"/>
<rect x="46.8" y="168.3" width="123.7" height="95.3" fill="none" stroke="#2b2b2b" stroke-width="1.3"/>
<line x1="92" y1="199" x2="128" y2="182" stroke="#b0f0f0" stroke-width="0.7" opacity="1"/>
<line x1="110" y1="196" x2="136" y2="195" stroke="#c0f0c0" stroke-width="0.7" opacity="1"/>
<line x1="136" y1="195" x2="142" y2="216" stroke="#c0f0f0" stroke-width="0.7" opacity="1"/>
<line x1="128" y1="178" x2="147" y2="186" stroke="#e8e890" stroke-width="0.7" opacity="1"/>
<line x1="85" y1="216" x2="70" y2="238" stroke="#c0c0f0" stroke-width="0.7" opacity="1"/>
<line x1="84" y1="226" x2="91" y2="249" stroke="#d0d0f0" stroke-width="0.7" opacity="1"/>
<line x1="111" y1="218" x2="117" y2="236" stroke="#f0c0c0" stroke-width="0.7" opacity="1"/>
<line x1="122" y1="203" x2="145" y2="197" stroke="#d0f0b0" stroke-width="0.7" opacity="1"/>
<ellipse cx="76" cy="234" rx="20.6" ry="28" transform="rotate(0 76 234)" fill="none" stroke="#d83848" stroke-width="1.2"/>
<ellipse cx="127.5" cy="212" rx="28.5" ry="41.3" transform="rotate(7 127.5 212)" fill="none" stroke="#5a68c8" stroke-width="1.2"/>
<ellipse cx="116.2" cy="230.2" rx="10" ry="20.1" transform="rotate(-11 116.2 230.2)" fill="none" stroke="#d050d0" stroke-width="1.1" stroke-dasharray="2,1.5"/>
<circle cx="78.7" cy="196.0" r="1.84" fill="#30d8e8" opacity="0.85"/>
<circle cx="78.9" cy="196.2" r="0.72" fill="#104b51"/>
<circle cx="77.2" cy="199.4" r="1.84" fill="#30d8e8" opacity="0.85"/>
<circle cx="77.4" cy="199.6" r="0.72" fill="#104b51"/>
<circle cx="81.5" cy="197.5" r="1.84" fill="#30d8e8" opacity="0.85"/>
<circle cx="81.7" cy="197.7" r="0.72" fill="#104b51"/>
<circle cx="79.6" cy="200.0" r="1.84" fill="#30d8e8" opacity="0.85"/>
<circle cx="79.8" cy="200.2" r="0.72" fill="#104b51"/>
<circle cx="82.5" cy="201.3" r="1.8" fill="#a8d848" opacity="0.8"/>
<circle cx="82.7" cy="201.4" r="1.05" fill="#152015"/>
<circle cx="84.4" cy="194.1" r="1.84" fill="#e8d030" opacity="0.85"/>
<circle cx="84.6" cy="194.3" r="0.72" fill="#514810"/>
<circle cx="87.8" cy="194.6" r="1.8" fill="#a8d848" opacity="0.8"/>
<circle cx="88.0" cy="194.7" r="1.05" fill="#152015"/>
<circle cx="89.7" cy="194.1" r="1.8" fill="#a8d848" opacity="0.8"/>
<circle cx="89.9" cy="194.2" r="1.05" fill="#152015"/>
<circle cx="85.4" cy="196.5" r="1.84" fill="#e8d030" opacity="0.85"/>
<circle cx="85.6" cy="196.7" r="0.72" fill="#514810"/>
<circle cx="87.3" cy="198.5" r="1.8" fill="#a8d848" opacity="0.8"/>
<circle cx="87.5" cy="198.6" r="1.05" fill="#152015"/>
<circle cx="90.7" cy="200.9" r="1.84" fill="#6a3ae0" opacity="0.85"/>
<circle cx="90.9" cy="201.1" r="0.72" fill="#25144e"/>
<circle cx="89.2" cy="202.8" r="1.8" fill="#a8d848" opacity="0.8"/>
<circle cx="89.4" cy="202.9" r="1.05" fill="#152015"/>
<circle cx="85.9" cy="204.7" r="1.84" fill="#e8d030" opacity="0.85"/>
<circle cx="86.1" cy="204.9" r="0.72" fill="#514810"/>
<circle cx="83.5" cy="205.2" r="1.8" fill="#a8d848" opacity="0.8"/>
<circle cx="83.7" cy="205.3" r="1.05" fill="#152015"/>
<circle cx="93.0" cy="196.0" r="1.84" fill="#50e040" opacity="0.85"/>
<circle cx="93.2" cy="196.2" r="0.72" fill="#1c4e16"/>
<circle cx="96.0" cy="197.0" r="1.84" fill="#50e040" opacity="0.85"/>
<circle cx="96.2" cy="197.2" r="0.72" fill="#1c4e16"/>
<circle cx="98.8" cy="194.1" r="1.8" fill="#a8d848" opacity="0.8"/>
<circle cx="99.0" cy="194.2" r="1.05" fill="#152015"/>
<circle cx="97.9" cy="193.7" r="1.84" fill="#50e040" opacity="0.85"/>
<circle cx="98.1" cy="193.9" r="0.72" fill="#1c4e16"/>
<circle cx="96.4" cy="201.8" r="1.8" fill="#a8d848" opacity="0.8"/>
<circle cx="96.6" cy="201.9" r="1.05" fill="#152015"/>
<circle cx="95.0" cy="203.8" r="1.84" fill="#30d8e8" opacity="0.85"/>
<circle cx="95.2" cy="203.9" r="0.72" fill="#104b51"/>
<circle cx="100.8" cy="198.0" r="1.84" fill="#50e040" opacity="0.85"/>
<circle cx="101.0" cy="198.2" r="0.72" fill="#1c4e16"/>
<circle cx="101.2" cy="197.5" r="1.8" fill="#a8d848" opacity="0.8"/>
<circle cx="101.5" cy="197.6" r="1.05" fill="#152015"/>
<circle cx="103.0" cy="194.0" r="1.84" fill="#50e040" opacity="0.85"/>
<circle cx="103.2" cy="194.2" r="0.72" fill="#1c4e16"/>
<circle cx="105.6" cy="196.5" r="1.8" fill="#a8d848" opacity="0.8"/>
<circle cx="105.8" cy="196.6" r="1.05" fill="#152015"/>
<circle cx="109.4" cy="195.6" r="1.84" fill="#50e040" opacity="0.85"/>
<circle cx="109.6" cy="195.8" r="0.72" fill="#1c4e16"/>
<circle cx="111.3" cy="195.6" r="1.8" fill="#a8d848" opacity="0.8"/>
<circle cx="111.5" cy="195.7" r="1.05" fill="#152015"/>
<circle cx="105.1" cy="203.3" r="1.8" fill="#a8d848" opacity="0.8"/>
<circle cx="105.3" cy="203.4" r="1.05" fill="#152015"/>
<circle cx="95.5" cy="207.6" r="1.84" fill="#e8d030" opacity="0.85"/>
<circle cx="95.7" cy="207.8" r="0.72" fill="#514810"/>
<circle cx="99.8" cy="208.0" r="1.8" fill="#a8d848" opacity="0.8"/>
<circle cx="100.0" cy="208.1" r="1.05" fill="#152015"/>
<circle cx="83.5" cy="210.5" r="1.84" fill="#3340e0" opacity="0.85"/>
<circle cx="83.7" cy="210.7" r="0.72" fill="#11164e"/>
<circle cx="88.3" cy="211.0" r="1.84" fill="#3340e0" opacity="0.85"/>
<circle cx="88.5" cy="211.2" r="0.72" fill="#11164e"/>
<circle cx="85.4" cy="213.8" r="1.84" fill="#50e040" opacity="0.85"/>
<circle cx="85.6" cy="214.0" r="0.72" fill="#1c4e16"/>
<circle cx="88.8" cy="217.7" r="1.84" fill="#3340e0" opacity="0.85"/>
<circle cx="89.0" cy="217.9" r="0.72" fill="#11164e"/>
<circle cx="94.0" cy="211.0" r="1.84" fill="#3340e0" opacity="0.85"/>
<circle cx="94.2" cy="211.2" r="0.72" fill="#11164e"/>
<circle cx="96.0" cy="213.4" r="1.84" fill="#3340e0" opacity="0.85"/>
<circle cx="96.2" cy="213.6" r="0.72" fill="#11164e"/>
<circle cx="93.0" cy="215.8" r="1.84" fill="#3340e0" opacity="0.85"/>
<circle cx="93.2" cy="216.0" r="0.72" fill="#11164e"/>
<circle cx="99.8" cy="212.4" r="1.8" fill="#a8d848" opacity="0.8"/>
<circle cx="100.0" cy="212.5" r="1.05" fill="#152015"/>
<circle cx="74.8" cy="222.0" r="1.8" fill="#a8d848" opacity="0.8"/>
<circle cx="75.0" cy="222.1" r="1.05" fill="#152015"/>
<circle cx="84.0" cy="222.0" r="1.8" fill="#a8d848" opacity="0.8"/>
<circle cx="84.2" cy="222.1" r="1.05" fill="#152015"/>
<circle cx="112.3" cy="185.5" r="1.8" fill="#a8d848" opacity="0.8"/>
<circle cx="112.5" cy="185.6" r="1.05" fill="#152015"/>
<circle cx="111.3" cy="217.7" r="1.84" fill="#e02020" opacity="0.85"/>
<circle cx="111.5" cy="217.9" r="0.72" fill="#4e0b0b"/>
<circle cx="109.4" cy="221.0" r="1.84" fill="#50e040" opacity="0.85"/>
<circle cx="109.6" cy="221.2" r="0.72" fill="#1c4e16"/>
<circle cx="92.0" cy="205.0" r="1.8" fill="#a8d848" opacity="0.8"/>
<circle cx="92.2" cy="205.1" r="1.05" fill="#152015"/>
<circle cx="80.0" cy="203.0" r="1.84" fill="#30d8e8" opacity="0.85"/>
<circle cx="80.2" cy="203.2" r="0.72" fill="#104b51"/>
<circle cx="91.0" cy="197.0" r="1.84" fill="#e8d030" opacity="0.85"/>
<circle cx="91.2" cy="197.2" r="0.72" fill="#514810"/>
<circle cx="128.8" cy="177.5" r="1.84" fill="#e8d030" opacity="0.85"/>
<circle cx="128.9" cy="177.7" r="0.72" fill="#514810"/>
<circle cx="141.2" cy="180.5" r="1.84" fill="#e8d030" opacity="0.85"/>
<circle cx="141.4" cy="180.7" r="0.72" fill="#514810"/>
<circle cx="147.5" cy="186.2" r="1.84" fill="#50e040" opacity="0.85"/>
<circle cx="147.7" cy="186.4" r="0.72" fill="#1c4e16"/>
<circle cx="112.5" cy="185.5" r="1.84" fill="#50e040" opacity="0.85"/>
<circle cx="112.7" cy="185.7" r="0.72" fill="#1c4e16"/>
<circle cx="136.2" cy="195.0" r="1.8" fill="#a8d848" opacity="0.8"/>
<circle cx="136.4" cy="195.1" r="1.05" fill="#152015"/>
<circle cx="145.0" cy="197.5" r="1.84" fill="#50e040" opacity="0.85"/>
<circle cx="145.2" cy="197.7" r="0.72" fill="#1c4e16"/>
<circle cx="110.0" cy="195.5" r="1.84" fill="#50e040" opacity="0.85"/>
<circle cx="110.2" cy="195.7" r="0.72" fill="#1c4e16"/>
<circle cx="105.0" cy="203.8" r="1.84" fill="#50e040" opacity="0.85"/>
<circle cx="105.2" cy="203.9" r="0.72" fill="#1c4e16"/>
<circle cx="122.5" cy="203.0" r="1.84" fill="#50e040" opacity="0.85"/>
<circle cx="122.7" cy="203.2" r="0.72" fill="#1c4e16"/>
<circle cx="120.0" cy="208.8" r="1.84" fill="#e8d030" opacity="0.85"/>
<circle cx="120.2" cy="208.9" r="0.72" fill="#514810"/>
<circle cx="123.8" cy="211.2" r="1.84" fill="#3340e0" opacity="0.85"/>
<circle cx="124.0" cy="211.4" r="0.72" fill="#11164e"/>
<circle cx="132.5" cy="211.2" r="1.84" fill="#50e040" opacity="0.85"/>
<circle cx="132.7" cy="211.4" r="0.72" fill="#1c4e16"/>
<circle cx="137.5" cy="216.2" r="1.84" fill="#50e040" opacity="0.85"/>
<circle cx="137.7" cy="216.4" r="0.72" fill="#1c4e16"/>
<circle cx="142.5" cy="218.0" r="1.84" fill="#50e040" opacity="0.85"/>
<circle cx="142.7" cy="218.2" r="0.72" fill="#1c4e16"/>
<circle cx="135.0" cy="218.8" r="1.84" fill="#30d8e8" opacity="0.85"/>
<circle cx="135.2" cy="218.9" r="0.72" fill="#104b51"/>
<circle cx="111.2" cy="217.5" r="1.84" fill="#e02020" opacity="0.85"/>
<circle cx="111.5" cy="217.7" r="0.72" fill="#4e0b0b"/>
<circle cx="110.0" cy="221.0" r="1.84" fill="#50e040" opacity="0.85"/>
<circle cx="110.2" cy="221.2" r="0.72" fill="#1c4e16"/>
<circle cx="111.2" cy="232.0" r="1.84" fill="#e02020" opacity="0.85"/>
<circle cx="111.5" cy="232.2" r="0.72" fill="#4e0b0b"/>
<circle cx="115.0" cy="232.0" r="1.84" fill="#e02020" opacity="0.85"/>
<circle cx="115.2" cy="232.2" r="0.72" fill="#4e0b0b"/>
<circle cx="111.2" cy="237.5" r="1.84" fill="#50e040" opacity="0.85"/>
<circle cx="111.5" cy="237.7" r="0.72" fill="#1c4e16"/>
<circle cx="117.5" cy="236.0" r="1.84" fill="#50e040" opacity="0.85"/>
<circle cx="117.7" cy="236.2" r="0.72" fill="#1c4e16"/>
<circle cx="122.5" cy="247.5" r="1.84" fill="#50e040" opacity="0.85"/>
<circle cx="122.7" cy="247.7" r="0.72" fill="#1c4e16"/>
<circle cx="91.2" cy="248.8" r="1.84" fill="#6a3ae0" opacity="0.85"/>
<circle cx="91.5" cy="248.9" r="0.72" fill="#25144e"/>
<circle cx="83.8" cy="245.0" r="1.84" fill="#6a3ae0" opacity="0.85"/>
<circle cx="84.0" cy="245.2" r="0.72" fill="#25144e"/>
<circle cx="75.0" cy="248.8" r="1.8" fill="#a8d848" opacity="0.8"/>
<circle cx="75.2" cy="248.8" r="1.05" fill="#152015"/>
<circle cx="70.0" cy="246.2" r="1.8" fill="#a8d848" opacity="0.8"/>
<circle cx="70.2" cy="246.3" r="1.05" fill="#152015"/>
<circle cx="60.0" cy="243.8" r="1.8" fill="#a8d848" opacity="0.8"/>
<circle cx="60.2" cy="243.8" r="1.05" fill="#152015"/>
<circle cx="63.8" cy="235.0" r="1.8" fill="#a8d848" opacity="0.8"/>
<circle cx="64.0" cy="235.1" r="1.05" fill="#152015"/>
<circle cx="70.0" cy="237.5" r="1.84" fill="#e8d030" opacity="0.85"/>
<circle cx="70.2" cy="237.7" r="0.72" fill="#514810"/>
<circle cx="67.5" cy="223.8" r="1.84" fill="#6a3ae0" opacity="0.85"/>
<circle cx="67.7" cy="223.9" r="0.72" fill="#25144e"/>
<circle cx="70.0" cy="228.8" r="1.84" fill="#6a3ae0" opacity="0.85"/>
<circle cx="70.2" cy="228.9" r="0.72" fill="#25144e"/>
<circle cx="75.0" cy="222.5" r="1.84" fill="#50e040" opacity="0.85"/>
<circle cx="75.2" cy="222.7" r="0.72" fill="#1c4e16"/>
<circle cx="77.5" cy="230.0" r="1.84" fill="#6a3ae0" opacity="0.85"/>
<circle cx="77.7" cy="230.2" r="0.72" fill="#25144e"/>
<circle cx="76.2" cy="233.8" r="1.84" fill="#6a3ae0" opacity="0.85"/>
<circle cx="76.5" cy="233.9" r="0.72" fill="#25144e"/>
<circle cx="80.0" cy="237.5" r="1.84" fill="#6a3ae0" opacity="0.85"/>
<circle cx="80.2" cy="237.7" r="0.72" fill="#25144e"/>
<circle cx="83.8" cy="237.5" r="1.84" fill="#6a3ae0" opacity="0.85"/>
<circle cx="84.0" cy="237.7" r="0.72" fill="#25144e"/>
<circle cx="83.8" cy="226.2" r="1.84" fill="#6a3ae0" opacity="0.85"/>
<circle cx="84.0" cy="226.4" r="0.72" fill="#25144e"/>
<circle cx="85.0" cy="222.5" r="1.84" fill="#50e040" opacity="0.85"/>
<circle cx="85.2" cy="222.7" r="0.72" fill="#1c4e16"/>
<circle cx="85.0" cy="216.2" r="1.84" fill="#3340e0" opacity="0.85"/>
<circle cx="85.2" cy="216.4" r="0.72" fill="#11164e"/>
<circle cx="82.5" cy="210.0" r="1.84" fill="#3340e0" opacity="0.85"/>
<circle cx="82.7" cy="210.2" r="0.72" fill="#11164e"/>
<circle cx="72.0" cy="240.0" r="1.84" fill="#50e040" opacity="0.85"/>
<circle cx="72.2" cy="240.2" r="0.72" fill="#1c4e16"/>
<line x1="71" y1="265.0" x2="71" y2="271.5" stroke="#111" stroke-width="1.2" opacity="1"/>
<path d="M69,265.5 L71,262.5 L73,265.5 Z" fill="#111"/>
<line x1="133.5" y1="252.5" x2="146.5" y2="275.5" stroke="#111" stroke-width="1.1" opacity="1"/>
<path d="M133.5,252.5 L133.5,256.2 L136.6,254.4 Z" fill="#111"/>
<text x="41.2" y="283.8" font-size="8.5" font-weight="bold" fill="#111" font-family='"Liberation Serif", serif' text-anchor="start" textLength="62.3" lengthAdjust="spacingAndGlyphs" stroke="#111" stroke-width="0.3">Protein synthesis</text>
<text x="54.2" y="293.8" font-size="8.5" font-weight="bold" fill="#111" font-family='"Liberation Serif", serif' text-anchor="start" textLength="35.4" lengthAdjust="spacingAndGlyphs" stroke="#111" stroke-width="0.3">inhibitors</text>
<text x="133.6" y="283.6" font-size="8.5" font-weight="bold" fill="#111" font-family='"Liberation Serif", serif' text-anchor="start" textLength="30.8" lengthAdjust="spacingAndGlyphs" stroke="#111" stroke-width="0.3">Protease</text>
<text x="131.3" y="293.4" font-size="8.5" font-weight="bold" fill="#111" font-family='"Liberation Serif", serif' text-anchor="start" textLength="35.7" lengthAdjust="spacingAndGlyphs" stroke="#111" stroke-width="0.3">inhibitors</text>
<line x1="202.5" y1="171.5" x2="203.5" y2="266.3" stroke="#ececec" stroke-width="0.6"/>
<line x1="224.5" y1="171.5" x2="226.4" y2="266.3" stroke="#ececec" stroke-width="0.6"/>
<line x1="246.5" y1="171.5" x2="248.9" y2="266.3" stroke="#ececec" stroke-width="0.6"/>
<line x1="268.5" y1="171.5" x2="272.0" y2="266.3" stroke="#ececec" stroke-width="0.6"/>
<line x1="290.5" y1="171.5" x2="292.4" y2="266.3" stroke="#ececec" stroke-width="0.6"/>
<line x1="312.5" y1="171.5" x2="315.9" y2="266.3" stroke="#ececec" stroke-width="0.6"/>
<line x1="194.5" y1="178.6" x2="320.5" y2="172.0" stroke="#ececec" stroke-width="0.6"/>
<line x1="194.5" y1="198.7" x2="320.5" y2="198.3" stroke="#ececec" stroke-width="0.6"/>
<line x1="194.5" y1="218.9" x2="320.5" y2="225.1" stroke="#ececec" stroke-width="0.6"/>
<line x1="194.5" y1="239.1" x2="320.5" y2="241.1" stroke="#ececec" stroke-width="0.6"/>
<line x1="194.5" y1="259.2" x2="320.5" y2="264.8" stroke="#ececec" stroke-width="0.6"/>
<rect x="191.7" y="168.5" width="131.9" height="100.8" fill="none" stroke="#2b2b2b" stroke-width="1.3"/>
<rect x="197.6" y="176.3" width="8.2" height="3.4" rx="0.7" fill="#d8409a" stroke="#333" stroke-width="0.8"/>
<rect x="197.6" y="185.0" width="8.2" height="3.4" rx="0.7" fill="#e0d020" stroke="#333" stroke-width="0.8"/>
<text x="206.4" y="179.8" font-size="6.6" font-weight="normal" fill="#222" font-family='"Liberation Serif", serif' text-anchor="start" textLength="37.2" lengthAdjust="spacingAndGlyphs" stroke="#222" stroke-width="0.15">Jasplakinolide</text>
<text x="206.4" y="188.5" font-size="6.6" font-weight="normal" fill="#222" font-family='"Liberation Serif", serif' text-anchor="start" textLength="36.1" lengthAdjust="spacingAndGlyphs" stroke="#222" stroke-width="0.15">Latrunculin B</text>
<rect x="253.0" y="256.0" width="7.6" height="3.4" rx="0.7" fill="#40d0d8" stroke="#333" stroke-width="0.8"/>
<rect x="253.0" y="262.6" width="7.6" height="3.4" rx="0.7" fill="#80d020" stroke="#333" stroke-width="0.8"/>
<text x="261.5" y="259.8" font-size="6.6" font-weight="normal" fill="#1a2a70" font-family='"Liberation Serif", serif' text-anchor="start" textLength="41.2" lengthAdjust="spacingAndGlyphs" stroke="#1a2a70" stroke-width="0.12">Cytochalasin D</text>
<text x="261.5" y="266.3" font-size="6.6" font-weight="normal" fill="#1a2a70" font-family='"Liberation Serif", serif' text-anchor="start" textLength="40.5" lengthAdjust="spacingAndGlyphs" stroke="#1a2a70" stroke-width="0.12">Cytochalasin B</text>
<ellipse cx="276" cy="195.4" rx="19" ry="19.8" transform="rotate(10 276 195.4)" fill="none" stroke="#4a58c8" stroke-width="1.2"/>
<ellipse cx="228.5" cy="240" rx="36.5" ry="20.5" transform="rotate(-12 228.5 240)" fill="none" stroke="#ecb0c4" stroke-width="1.0"/>
<ellipse cx="265" cy="214" rx="9.5" ry="4.5" transform="rotate(35 265 214)" fill="#4646ea"/>
<rect x="257.6" y="209.8" width="2.6" height="2.2" fill="#6060f5"/>
<rect x="254.4" y="208.2" width="2.6" height="2.2" fill="#5050ee"/>
<rect x="264.2" y="216.7" width="2.6" height="2.2" fill="#7070f0"/>
<rect x="264.9" y="212.4" width="2.6" height="2.2" fill="#3535d8"/>
<rect x="265.8" y="217.4" width="2.6" height="2.2" fill="#3b3bf0"/>
<rect x="260.8" y="209.1" width="2.6" height="2.2" fill="#6060f5"/>
<rect x="261.9" y="208.0" width="2.6" height="2.2" fill="#5050ee"/>
<rect x="259.6" y="205.8" width="2.6" height="2.2" fill="#3b3bf0"/>
<rect x="266.1" y="215.3" width="2.6" height="2.2" fill="#5050ee"/>
<rect x="258.9" y="206.3" width="2.6" height="2.2" fill="#3535d8"/>
<rect x="254.6" y="208.7" width="2.6" height="2.2" fill="#7070f0"/>
<rect x="262.8" y="214.9" width="2.6" height="2.2" fill="#3b3bf0"/>
<rect x="262.5" y="209.1" width="2.6" height="2.2" fill="#3535d8"/>
<rect x="257.9" y="211.1" width="2.6" height="2.2" fill="#3b3bf0"/>
<rect x="263.9" y="210.4" width="2.6" height="2.2" fill="#5050ee"/>
<rect x="262.6" y="212.1" width="2.6" height="2.2" fill="#7070f0"/>
<rect x="265.7" y="211.1" width="2.6" height="2.2" fill="#3535d8"/>
<rect x="252.7" y="210.4" width="2.6" height="2.2" fill="#3b3bf0"/>
<rect x="262.7" y="219.3" width="2.6" height="2.2" fill="#3b3bf0"/>
<rect x="250.5" y="205.3" width="2.6" height="2.2" fill="#6060f5"/>
<rect x="257.7" y="210.7" width="2.6" height="2.2" fill="#5050ee"/>
<rect x="265.5" y="211.7" width="2.6" height="2.2" fill="#3b3bf0"/>
<rect x="263.2" y="213.0" width="2.6" height="2.2" fill="#6060f5"/>
<rect x="264.6" y="211.9" width="2.6" height="2.2" fill="#5050ee"/>
<rect x="263.7" y="212.5" width="2.6" height="2.2" fill="#6060f5"/>
<rect x="265.4" y="212.2" width="2.6" height="2.2" fill="#7070f0"/>
<rect x="264.1" y="216.7" width="2.6" height="2.2" fill="#5050ee"/>
<rect x="259.1" y="211.2" width="2.6" height="2.2" fill="#6060f5"/>
<rect x="260.5" y="211.7" width="2.6" height="2.2" fill="#3535d8"/>
<rect x="274.8" y="214.2" width="2.6" height="2.2" fill="#7070f0"/>
<rect x="257.7" y="214.9" width="2.6" height="2.2" fill="#5050ee"/>
<rect x="264.9" y="223.4" width="2.6" height="2.2" fill="#7070f0"/>
<rect x="262.9" y="211.2" width="2.6" height="2.2" fill="#5050ee"/>
<rect x="263.4" y="215.1" width="2.6" height="2.2" fill="#7070f0"/>
<rect x="260.8" y="213.2" width="2.6" height="2.2" fill="#3b3bf0"/>
<rect x="266.0" y="215.5" width="2.6" height="2.2" fill="#5050ee"/>
<rect x="267.9" y="216.1" width="2.6" height="2.2" fill="#7070f0"/>
<rect x="251.7" y="206.8" width="2.6" height="2.2" fill="#6060f5"/>
<rect x="265.6" y="212.7" width="2.6" height="2.2" fill="#6060f5"/>
<rect x="264.0" y="214.8" width="2.6" height="2.2" fill="#5050ee"/>
<rect x="266.1" y="212.4" width="2.6" height="2.2" fill="#5050ee"/>
<rect x="265.4" y="217.8" width="2.6" height="2.2" fill="#7070f0"/>
<rect x="263.9" y="220.4" width="2.6" height="2.2" fill="#6060f5"/>
<rect x="260.9" y="208.9" width="2.6" height="2.2" fill="#3b3bf0"/>
<rect x="266.7" y="217.4" width="2.6" height="2.2" fill="#3535d8"/>
<rect x="261.9" y="216.6" width="2.6" height="2.2" fill="#3535d8"/>
<rect x="253.6" y="209.1" width="2.6" height="2.2" fill="#6060f5"/>
<rect x="262.1" y="213.6" width="2.6" height="2.2" fill="#3b3bf0"/>
<rect x="266.1" y="217.2" width="2.6" height="2.2" fill="#7070f0"/>
<rect x="261.7" y="209.8" width="2.6" height="2.2" fill="#5050ee"/>
<rect x="264.3" y="212.1" width="2.6" height="2.2" fill="#6060f5"/>
<rect x="262.0" y="212.1" width="2.6" height="2.2" fill="#5050ee"/>
<rect x="260.8" y="214.7" width="2.6" height="2.2" fill="#5050ee"/>
<rect x="265.3" y="215.0" width="2.6" height="2.2" fill="#6060f5"/>
<rect x="270.5" y="217.1" width="2.6" height="2.2" fill="#7070f0"/>
<rect x="262.0" y="210.8" width="2.6" height="2.2" fill="#3b3bf0"/>
<rect x="269.0" y="215.0" width="2.6" height="2.2" fill="#3535d8"/>
<rect x="263.8" y="205.2" width="2.6" height="2.2" fill="#3b3bf0"/>
<rect x="262.6" y="211.4" width="2.6" height="2.2" fill="#3b3bf0"/>
<rect x="264.5" y="210.7" width="2.6" height="2.2" fill="#3b3bf0"/>
<rect x="267.9" y="217.6" width="2.6" height="2.2" fill="#3b3bf0"/>
<rect x="271.1" y="215.0" width="2.6" height="2.2" fill="#5050ee"/>
<rect x="269.6" y="210.2" width="2.6" height="2.2" fill="#3535d8"/>
<rect x="267.2" y="217.2" width="2.6" height="2.2" fill="#3b3bf0"/>
<rect x="268.1" y="213.6" width="2.6" height="2.2" fill="#3b3bf0"/>
<rect x="269.0" y="213.5" width="2.6" height="2.2" fill="#7070f0"/>
<rect x="262.6" y="209.5" width="2.6" height="2.2" fill="#3b3bf0"/>
<rect x="262.7" y="211.3" width="2.6" height="2.2" fill="#3b3bf0"/>
<rect x="273.1" y="219.2" width="2.6" height="2.2" fill="#3535d8"/>
<rect x="256.5" y="211.2" width="2.6" height="2.2" fill="#7070f0"/>
<rect x="258.4" y="210.1" width="2.6" height="2.2" fill="#7070f0"/>
<rect x="268.9" y="219.2" width="2.6" height="2.2" fill="#3b3bf0"/>
<rect x="262.4" y="213.2" width="2.6" height="2.2" fill="#3b3bf0"/>
<rect x="262.3" y="216.8" width="2.6" height="2.2" fill="#6060f5"/>
<rect x="267.1" y="210.7" width="2.6" height="2.2" fill="#6060f5"/>
<rect x="263.5" y="213.2" width="2.6" height="2.2" fill="#3535d8"/>
<rect x="265.9" y="217.9" width="2.6" height="2.2" fill="#7070f0"/>
<rect x="265.6" y="220.3" width="2.6" height="2.2" fill="#6060f5"/>
<rect x="260.3" y="210.6" width="2.6" height="2.2" fill="#6060f5"/>
<rect x="263.0" y="210.6" width="2.6" height="2.2" fill="#6060f5"/>
<rect x="268.6" y="211.3" width="2.6" height="2.2" fill="#5050ee"/>
<rect x="267.9" y="213.7" width="2.6" height="2.2" fill="#7070f0"/>
<rect x="266.9" y="214.1" width="2.6" height="2.2" fill="#5050ee"/>
<rect x="255.1" y="207.0" width="2.6" height="2.2" fill="#3b3bf0"/>
<rect x="264.6" y="206.0" width="2.6" height="2.2" fill="#3535d8"/>
<circle cx="279.8" cy="185.2" r="1.38" fill="#3a1030" opacity="0.85"/>
<circle cx="280.0" cy="185.4" r="0.66" fill="#140510"/>
<circle cx="273.9" cy="188.7" r="1.38" fill="#3a1030" opacity="0.85"/>
<circle cx="274.1" cy="188.9" r="0.66" fill="#140510"/>
<circle cx="281.5" cy="189.3" r="1.38" fill="#3a1030" opacity="0.85"/>
<circle cx="281.7" cy="189.5" r="0.66" fill="#140510"/>
<circle cx="286.8" cy="190.5" r="1.38" fill="#e8d030" opacity="0.85"/>
<circle cx="287.0" cy="190.7" r="0.66" fill="#514810"/>
<circle cx="271.6" cy="192.8" r="1.38" fill="#d040d0" opacity="0.85"/>
<circle cx="271.8" cy="193.0" r="0.66" fill="#481648"/>
<circle cx="275.1" cy="194.0" r="1.38" fill="#3a1030" opacity="0.85"/>
<circle cx="275.3" cy="194.2" r="0.66" fill="#140510"/>
<circle cx="278.6" cy="194.0" r="1.38" fill="#3a1030" opacity="0.85"/>
<circle cx="278.8" cy="194.2" r="0.66" fill="#140510"/>
<circle cx="265.7" cy="195.7" r="1.38" fill="#50e040" opacity="0.85"/>
<circle cx="265.9" cy="195.9" r="0.66" fill="#1c4e16"/>
<circle cx="273.3" cy="199.8" r="1.38" fill="#d040d0" opacity="0.85"/>
<circle cx="273.5" cy="200.0" r="0.66" fill="#481648"/>
<circle cx="276.3" cy="199.8" r="1.38" fill="#d040d0" opacity="0.85"/>
<circle cx="276.5" cy="200.0" r="0.66" fill="#481648"/>
<circle cx="283.9" cy="199.2" r="1.38" fill="#e8d030" opacity="0.85"/>
<circle cx="284.1" cy="199.4" r="0.66" fill="#514810"/>
<circle cx="264.6" cy="200.4" r="1.38" fill="#15301a" opacity="0.85"/>
<circle cx="264.8" cy="200.6" r="0.66" fill="#071009"/>
<circle cx="268.1" cy="201.0" r="1.38" fill="#d040d0" opacity="0.85"/>
<circle cx="268.3" cy="201.2" r="0.66" fill="#481648"/>
<circle cx="266.3" cy="202.7" r="1.38" fill="#e08020" opacity="0.85"/>
<circle cx="266.5" cy="202.9" r="0.66" fill="#4e2c0b"/>
<circle cx="270.4" cy="204.5" r="1.38" fill="#e02020" opacity="0.85"/>
<circle cx="270.6" cy="204.7" r="0.66" fill="#4e0b0b"/>
<circle cx="273.9" cy="205.7" r="1.38" fill="#e03060" opacity="0.85"/>
<circle cx="274.1" cy="205.9" r="0.66" fill="#4e1021"/>
<circle cx="277.4" cy="205.7" r="1.38" fill="#50e040" opacity="0.85"/>
<circle cx="277.6" cy="205.9" r="0.66" fill="#1c4e16"/>
<circle cx="276.3" cy="211.0" r="1.38" fill="#e8d030" opacity="0.85"/>
<circle cx="276.5" cy="211.2" r="0.66" fill="#514810"/>
<circle cx="263.4" cy="203.9" r="1.38" fill="#e8d030" opacity="0.85"/>
<circle cx="263.6" cy="204.1" r="0.66" fill="#514810"/>
<circle cx="200.0" cy="236.2" r="1.38" fill="#501020" opacity="0.85"/>
<circle cx="200.2" cy="236.4" r="0.66" fill="#1c050b"/>
<circle cx="203.8" cy="238.8" r="1.38" fill="#501020" opacity="0.85"/>
<circle cx="204.0" cy="239.0" r="0.66" fill="#1c050b"/>
<circle cx="222.3" cy="236.2" r="1.38" fill="#501020" opacity="0.85"/>
<circle cx="222.5" cy="236.4" r="0.66" fill="#1c050b"/>
<circle cx="234.6" cy="236.5" r="1.38" fill="#a0e0a0" opacity="0.85"/>
<circle cx="234.8" cy="236.7" r="0.66" fill="#384e38"/>
<circle cx="240.8" cy="234.2" r="1.38" fill="#401020" opacity="0.85"/>
<circle cx="241.0" cy="234.4" r="0.66" fill="#16050b"/>
<circle cx="246.9" cy="235.0" r="1.38" fill="#70a070" opacity="0.85"/>
<circle cx="247.1" cy="235.2" r="0.66" fill="#273827"/>
<circle cx="250.8" cy="238.8" r="1.38" fill="#50e040" opacity="0.85"/>
<circle cx="251.0" cy="239.0" r="0.66" fill="#1c4e16"/>
<circle cx="250.8" cy="243.5" r="1.38" fill="#50e040" opacity="0.85"/>
<circle cx="251.0" cy="243.7" r="0.66" fill="#1c4e16"/>
<circle cx="243.8" cy="248.0" r="1.38" fill="#30d8e8" opacity="0.85"/>
<circle cx="244.0" cy="248.2" r="0.66" fill="#104b51"/>
<circle cx="251.5" cy="252.0" r="1.38" fill="#909090" opacity="0.85"/>
<circle cx="251.7" cy="252.2" r="0.66" fill="#323232"/>
<circle cx="244.6" cy="256.2" r="1.38" fill="#50e040" opacity="0.85"/>
<circle cx="244.8" cy="256.4" r="0.66" fill="#1c4e16"/>
<circle cx="253.8" cy="225.8" r="1.38" fill="#50e040" opacity="0.85"/>
<circle cx="254.0" cy="226.0" r="0.66" fill="#1c4e16"/>
<circle cx="256.9" cy="228.0" r="1.38" fill="#207030" opacity="0.85"/>
<circle cx="257.1" cy="228.2" r="0.66" fill="#0b2710"/>
<circle cx="257.7" cy="232.0" r="1.38" fill="#207030" opacity="0.85"/>
<circle cx="257.9" cy="232.2" r="0.66" fill="#0b2710"/>
<circle cx="264.6" cy="225.0" r="1.38" fill="#50e040" opacity="0.85"/>
<circle cx="264.8" cy="225.2" r="0.66" fill="#1c4e16"/>
<circle cx="194.6" cy="260.0" r="1.38" fill="#808080" opacity="0.85"/>
<circle cx="194.8" cy="260.2" r="0.66" fill="#2c2c2c"/>
<circle cx="268.0" cy="226.0" r="1.38" fill="#501020" opacity="0.85"/>
<circle cx="268.2" cy="226.2" r="0.66" fill="#1c050b"/>
<circle cx="270.0" cy="228.0" r="1.38" fill="#d04080" opacity="0.85"/>
<circle cx="270.2" cy="228.2" r="0.66" fill="#48162c"/>
<line x1="234.6" y1="264.0" x2="234.6" y2="277.5" stroke="#111" stroke-width="1.2" opacity="1"/>
<path d="M232.6,264.5 L234.6,261.5 L236.6,264.5 Z" fill="#111"/>
<line x1="289" y1="208.5" x2="315.5" y2="278.5" stroke="#111" stroke-width="1.1" opacity="1"/>
<path d="M289.0,208.5 L288.4,212.1 L291.8,210.9 Z" fill="#111"/>
<text x="223.5" y="288.8" font-size="8.5" font-weight="bold" fill="#111" font-family='"Liberation Serif", serif' text-anchor="start" textLength="22.5" lengthAdjust="spacingAndGlyphs" stroke="#111" stroke-width="0.3">Actin-</text>
<text x="201.3" y="298.3" font-size="8.5" font-weight="bold" fill="#111" font-family='"Liberation Serif", serif' text-anchor="start" textLength="64.3" lengthAdjust="spacingAndGlyphs" stroke="#111" stroke-width="0.3">disrupting agents</text>
<text x="283.0" y="288.8" font-size="8.5" font-weight="bold" fill="#111" font-family='"Liberation Serif", serif' text-anchor="start" textLength="56.0" lengthAdjust="spacingAndGlyphs" stroke="#111" stroke-width="0.3">DNA replication</text>
<text x="295.3" y="298.3" font-size="8.5" font-weight="bold" fill="#111" font-family='"Liberation Serif", serif' text-anchor="start" textLength="30.7" lengthAdjust="spacingAndGlyphs" stroke="#111" stroke-width="0.3">inhibitors</text>
<line x1="357.8" y1="172" x2="360.2" y2="261" stroke="#ececec" stroke-width="0.6"/>
<line x1="378.5" y1="172" x2="381.1" y2="261" stroke="#ececec" stroke-width="0.6"/>
<line x1="399.2" y1="172" x2="399.0" y2="261" stroke="#ececec" stroke-width="0.6"/>
<line x1="419.8" y1="172" x2="417.9" y2="261" stroke="#ececec" stroke-width="0.6"/>
<line x1="440.5" y1="172" x2="436.5" y2="261" stroke="#ececec" stroke-width="0.6"/>
<line x1="461.2" y1="172" x2="462.5" y2="261" stroke="#ececec" stroke-width="0.6"/>
<line x1="350.5" y1="178.5" x2="468.5" y2="178.1" stroke="#ececec" stroke-width="0.6"/>
<line x1="350.5" y1="197.5" x2="468.5" y2="201.1" stroke="#ececec" stroke-width="0.6"/>
<line x1="350.5" y1="216.5" x2="468.5" y2="214.7" stroke="#ececec" stroke-width="0.6"/>
<line x1="350.5" y1="235.5" x2="468.5" y2="239.3" stroke="#ececec" stroke-width="0.6"/>
<line x1="350.5" y1="254.5" x2="468.5" y2="251.3" stroke="#ececec" stroke-width="0.6"/>
<rect x="347.7" y="169.3" width="123.8" height="94.9" fill="none" stroke="#2b2b2b" stroke-width="1.3"/>
<ellipse cx="422.8" cy="221.2" rx="13.6" ry="23" transform="rotate(5 422.8 221.2)" fill="none" stroke="#4a58c8" stroke-width="1.2"/>
<ellipse cx="387.5" cy="236.5" rx="31.5" ry="15.5" transform="rotate(-42 387.5 236.5)" fill="none" stroke="#eeb0c0" stroke-width="1.0"/>
<ellipse cx="414" cy="194.5" rx="9.5" ry="5" fill="#4a4af0"/>
<rect x="406.0" y="194.6" width="2.8" height="2.4" fill="#3c3ce0"/>
<rect x="413.0" y="194.2" width="2.8" height="2.4" fill="#3c3ce0"/>
<rect x="406.0" y="194.3" width="2.8" height="2.4" fill="#6868f8"/>
<rect x="410.3" y="189.6" width="2.8" height="2.4" fill="#7070f0"/>
<rect x="419.0" y="193.8" width="2.8" height="2.4" fill="#6868f8"/>
<rect x="409.8" y="196.0" width="2.8" height="2.4" fill="#5858f0"/>
<rect x="420.5" y="196.0" width="2.8" height="2.4" fill="#4a4af0"/>
<rect x="404.1" y="193.3" width="2.8" height="2.4" fill="#6868f8"/>
<rect x="413.2" y="192.5" width="2.8" height="2.4" fill="#4a4af0"/>
<rect x="415.5" y="189.4" width="2.8" height="2.4" fill="#5858f0"/>
<rect x="424.0" y="199.1" width="2.8" height="2.4" fill="#6868f8"/>
<rect x="416.3" y="196.0" width="2.8" height="2.4" fill="#5858f0"/>
<rect x="403.4" y="192.1" width="2.8" height="2.4" fill="#7070f0"/>
<rect x="416.3" y="198.2" width="2.8" height="2.4" fill="#4a4af0"/>
<rect x="407.5" y="192.5" width="2.8" height="2.4" fill="#4a4af0"/>
<rect x="408.7" y="195.8" width="2.8" height="2.4" fill="#7070f0"/>
<rect x="406.4" y="194.7" width="2.8" height="2.4" fill="#7070f0"/>
<rect x="419.9" y="194.8" width="2.8" height="2.4" fill="#5858f0"/>
<rect x="419.3" y="193.1" width="2.8" height="2.4" fill="#3c3ce0"/>
<rect x="421.2" y="191.4" width="2.8" height="2.4" fill="#6868f8"/>
<rect x="411.6" y="192.4" width="2.8" height="2.4" fill="#5858f0"/>
<rect x="410.3" y="196.5" width="2.8" height="2.4" fill="#7070f0"/>
<rect x="414.6" y="190.2" width="2.8" height="2.4" fill="#4a4af0"/>
<rect x="405.9" y="198.2" width="2.8" height="2.4" fill="#4a4af0"/>
<rect x="409.4" y="193.5" width="2.8" height="2.4" fill="#6868f8"/>
<rect x="415.6" y="194.4" width="2.8" height="2.4" fill="#7070f0"/>
<rect x="417.2" y="196.3" width="2.8" height="2.4" fill="#5858f0"/>
<rect x="415.8" y="195.0" width="2.8" height="2.4" fill="#6868f8"/>
<rect x="411.9" y="196.8" width="2.8" height="2.4" fill="#4a4af0"/>
<rect x="408.2" y="193.5" width="2.8" height="2.4" fill="#3c3ce0"/>
<rect x="411.6" y="197.5" width="2.8" height="2.4" fill="#6868f8"/>
<rect x="413.5" y="203.6" width="2.8" height="2.4" fill="#6868f8"/>
<rect x="416.5" y="192.4" width="2.8" height="2.4" fill="#5858f0"/>
<rect x="412.9" y="191.5" width="2.8" height="2.4" fill="#7070f0"/>
<rect x="416.2" y="193.9" width="2.8" height="2.4" fill="#3c3ce0"/>
<rect x="416.1" y="199.1" width="2.8" height="2.4" fill="#7070f0"/>
<rect x="418.8" y="194.9" width="2.8" height="2.4" fill="#3c3ce0"/>
<rect x="418.0" y="193.8" width="2.8" height="2.4" fill="#4a4af0"/>
<rect x="421.1" y="190.8" width="2.8" height="2.4" fill="#3c3ce0"/>
<rect x="410.5" y="192.0" width="2.8" height="2.4" fill="#7070f0"/>
<rect x="407.3" y="193.7" width="2.8" height="2.4" fill="#3c3ce0"/>
<rect x="411.7" y="201.8" width="2.8" height="2.4" fill="#5858f0"/>
<rect x="406.6" y="195.2" width="2.8" height="2.4" fill="#4a4af0"/>
<rect x="410.6" y="201.6" width="2.8" height="2.4" fill="#7070f0"/>
<rect x="409.4" y="191.0" width="2.8" height="2.4" fill="#5858f0"/>
<rect x="412.0" y="189.8" width="2.8" height="2.4" fill="#4a4af0"/>
<rect x="409.7" y="189.2" width="2.8" height="2.4" fill="#5858f0"/>
<rect x="409.2" y="192.9" width="2.8" height="2.4" fill="#5858f0"/>
<rect x="412.9" y="197.3" width="2.8" height="2.4" fill="#4a4af0"/>
<rect x="406.6" y="192.1" width="2.8" height="2.4" fill="#3c3ce0"/>
<rect x="412.9" y="190.4" width="2.8" height="2.4" fill="#7070f0"/>
<rect x="416.5" y="195.7" width="2.8" height="2.4" fill="#5858f0"/>
<rect x="408.9" y="192.3" width="2.8" height="2.4" fill="#3c3ce0"/>
<rect x="409.7" y="191.3" width="2.8" height="2.4" fill="#5858f0"/>
<rect x="419.8" y="194.4" width="2.8" height="2.4" fill="#4a4af0"/>
<rect x="415.5" y="187.1" width="2.8" height="2.4" fill="#6868f8"/>
<rect x="404.7" y="192.5" width="2.8" height="2.4" fill="#6868f8"/>
<rect x="414.5" y="188.8" width="2.8" height="2.4" fill="#5858f0"/>
<rect x="408.5" y="200.9" width="2.8" height="2.4" fill="#7070f0"/>
<rect x="406.3" y="194.0" width="2.8" height="2.4" fill="#5858f0"/>
<rect x="405.6" y="192.7" width="2.8" height="2.4" fill="#6868f8"/>
<rect x="411.0" y="193.2" width="2.8" height="2.4" fill="#3c3ce0"/>
<rect x="409.5" y="198.3" width="2.8" height="2.4" fill="#5858f0"/>
<rect x="409.7" y="188.9" width="2.8" height="2.4" fill="#3c3ce0"/>
<rect x="410.0" y="188.5" width="2.8" height="2.4" fill="#6868f8"/>
<rect x="411.8" y="194.4" width="2.8" height="2.4" fill="#6868f8"/>
<rect x="408.8" y="191.1" width="2.8" height="2.4" fill="#4a4af0"/>
<rect x="410.5" y="191.2" width="2.8" height="2.4" fill="#5858f0"/>
<rect x="414.2" y="192.8" width="2.8" height="2.4" fill="#5858f0"/>
<rect x="416.9" y="194.0" width="2.8" height="2.4" fill="#3c3ce0"/>
<rect x="416.7" y="189.7" width="2.8" height="2.4" fill="#3c3ce0"/>
<rect x="414.5" y="201.1" width="2.8" height="2.4" fill="#7070f0"/>
<rect x="416.0" y="192.1" width="2.8" height="2.4" fill="#7070f0"/>
<rect x="406.5" y="194.8" width="2.8" height="2.4" fill="#5858f0"/>
<rect x="404.8" y="195.2" width="2.8" height="2.4" fill="#4a4af0"/>
<rect x="414.2" y="191.7" width="2.8" height="2.4" fill="#7070f0"/>
<rect x="410.0" y="188.3" width="2.8" height="2.4" fill="#7070f0"/>
<rect x="409.5" y="189.5" width="2.8" height="2.4" fill="#4a4af0"/>
<rect x="406.0" y="192.1" width="2.8" height="2.4" fill="#3c3ce0"/>
<rect x="412.7" y="193.2" width="2.8" height="2.4" fill="#6868f8"/>
<rect x="412.6" y="201.8" width="2.8" height="2.4" fill="#5050f0"/>
<rect x="414.6" y="203.8" width="2.8" height="2.4" fill="#5050f0"/>
<rect x="410.6" y="199.8" width="2.8" height="2.4" fill="#5050f0"/>
<rect x="416.6" y="200.8" width="2.8" height="2.4" fill="#5050f0"/>
<rect x="408.6" y="188.8" width="2.8" height="2.4" fill="#5050f0"/>
<rect x="418.6" y="187.8" width="2.8" height="2.4" fill="#5050f0"/>
<rect x="413.6" y="205.8" width="2.8" height="2.4" fill="#5050f0"/>
<rect x="411.6" y="203.8" width="2.8" height="2.4" fill="#5050f0"/>
<rect x="403.6" y="195.8" width="2.8" height="2.4" fill="#5050f0"/>
<rect x="422.6" y="197.8" width="2.8" height="2.4" fill="#5050f0"/>
<rect x="400.6" y="190.8" width="2.8" height="2.4" fill="#5050f0"/>
<rect x="424.6" y="192.8" width="2.8" height="2.4" fill="#5050f0"/>
<circle cx="429.6" cy="213.2" r="2.07" fill="#c040e0" opacity="0.85"/>
<circle cx="429.8" cy="213.4" r="0.63" fill="#43164e"/>
<circle cx="431.0" cy="216.7" r="2.07" fill="#c040e0" opacity="0.85"/>
<circle cx="431.2" cy="216.9" r="0.63" fill="#43164e"/>
<circle cx="424.7" cy="220.0" r="2.07" fill="#c040e0" opacity="0.85"/>
<circle cx="424.9" cy="220.2" r="0.63" fill="#43164e"/>
<circle cx="417.8" cy="220.8" r="2.07" fill="#9030c0" opacity="0.85"/>
<circle cx="418.0" cy="221.0" r="0.63" fill="#321043"/>
<circle cx="413.7" cy="216.7" r="2.07" fill="#d02020" opacity="0.85"/>
<circle cx="413.9" cy="216.9" r="0.63" fill="#480b0b"/>
<circle cx="417.0" cy="224.3" r="2.07" fill="#d03020" opacity="0.85"/>
<circle cx="417.2" cy="224.5" r="0.63" fill="#48100b"/>
<circle cx="420.6" cy="239.5" r="2.07" fill="#d02020" opacity="0.85"/>
<circle cx="420.8" cy="239.7" r="0.63" fill="#480b0b"/>
<circle cx="412.3" cy="224.3" r="2.07" fill="#20a020" opacity="0.85"/>
<circle cx="412.5" cy="224.5" r="0.63" fill="#0b380b"/>
<circle cx="424.0" cy="225.0" r="2.07" fill="#20a020" opacity="0.85"/>
<circle cx="424.2" cy="225.2" r="0.63" fill="#0b380b"/>
<circle cx="427.5" cy="224.3" r="2.07" fill="#208020" opacity="0.85"/>
<circle cx="427.7" cy="224.5" r="0.63" fill="#0b2c0b"/>
<circle cx="425.4" cy="228.4" r="2.07" fill="#20a020" opacity="0.85"/>
<circle cx="425.6" cy="228.6" r="0.63" fill="#0b380b"/>
<circle cx="419.2" cy="227.7" r="2.07" fill="#2020e0" opacity="0.85"/>
<circle cx="419.4" cy="227.9" r="0.63" fill="#0b0b4e"/>
<circle cx="424.7" cy="231.9" r="2.07" fill="#2020e0" opacity="0.85"/>
<circle cx="424.9" cy="232.1" r="0.63" fill="#0b0b4e"/>
<circle cx="431.0" cy="233.3" r="2.07" fill="#2020e0" opacity="0.85"/>
<circle cx="431.2" cy="233.5" r="0.63" fill="#0b0b4e"/>
<circle cx="415.7" cy="234.6" r="2.07" fill="#2020e0" opacity="0.85"/>
<circle cx="415.9" cy="234.8" r="0.63" fill="#0b0b4e"/>
<circle cx="423.4" cy="235.3" r="2.07" fill="#2020e0" opacity="0.85"/>
<circle cx="423.6" cy="235.5" r="0.63" fill="#0b0b4e"/>
<circle cx="419.2" cy="211.1" r="2.07" fill="#f080a0" opacity="0.85"/>
<circle cx="419.4" cy="211.3" r="0.63" fill="#542c38"/>
<circle cx="422.0" cy="211.8" r="2.07" fill="#202020" opacity="0.85"/>
<circle cx="422.2" cy="212.0" r="0.63" fill="#0b0b0b"/>
<circle cx="418.5" cy="216.7" r="2.07" fill="#e07020" opacity="0.85"/>
<circle cx="418.7" cy="216.9" r="0.63" fill="#4e270b"/>
<circle cx="406.8" cy="220.8" r="2.07" fill="#802020" opacity="0.85"/>
<circle cx="407.0" cy="221.0" r="0.63" fill="#2c0b0b"/>
<circle cx="402.6" cy="215.3" r="2.07" fill="#80e040" opacity="0.85"/>
<circle cx="402.8" cy="215.5" r="0.63" fill="#2c4e16"/>
<circle cx="404.0" cy="225.6" r="2.07" fill="#40c040" opacity="0.85"/>
<circle cx="404.2" cy="225.8" r="0.63" fill="#164316"/>
<circle cx="405.4" cy="230.5" r="2.07" fill="#60d040" opacity="0.85"/>
<circle cx="405.6" cy="230.7" r="0.63" fill="#214816"/>
<circle cx="406.0" cy="220.0" r="2.07" fill="#e03030" opacity="0.85"/>
<circle cx="406.2" cy="220.2" r="0.63" fill="#4e1010"/>
<circle cx="416.4" cy="205.6" r="2.07" fill="#60d040" opacity="0.85"/>
<circle cx="416.6" cy="205.8" r="0.63" fill="#214816"/>
<circle cx="410.2" cy="209.7" r="2.07" fill="#40d0e0" opacity="0.85"/>
<circle cx="410.4" cy="209.9" r="0.63" fill="#16484e"/>
<circle cx="412.0" cy="207.5" r="2.07" fill="#e0e040" opacity="0.85"/>
<circle cx="412.2" cy="207.7" r="0.63" fill="#4e4e16"/>
<circle cx="426.5" cy="240.5" r="2.07" fill="#208040" opacity="0.85"/>
<circle cx="426.7" cy="240.7" r="0.63" fill="#0b2c16"/>
<circle cx="417.5" cy="182.5" r="2.07" fill="#a0e030" opacity="0.85"/>
<circle cx="417.7" cy="182.7" r="0.63" fill="#384e10"/>
<circle cx="436.2" cy="188.8" r="2.07" fill="#a0e030" opacity="0.85"/>
<circle cx="436.4" cy="188.9" r="0.63" fill="#384e10"/>
<circle cx="443.8" cy="218.8" r="2.07" fill="#a0e030" opacity="0.85"/>
<circle cx="443.9" cy="218.9" r="0.63" fill="#384e10"/>
<circle cx="391.2" cy="228.8" r="2.07" fill="#c03040" opacity="0.85"/>
<circle cx="391.4" cy="228.9" r="0.63" fill="#431016"/>
<circle cx="385.0" cy="232.5" r="2.07" fill="#40c060" opacity="0.85"/>
<circle cx="385.2" cy="232.7" r="0.63" fill="#164321"/>
<circle cx="375.0" cy="234.5" r="2.07" fill="#802030" opacity="0.85"/>
<circle cx="375.2" cy="234.7" r="0.63" fill="#2c0b10"/>
<circle cx="395.0" cy="246.2" r="2.07" fill="#40c060" opacity="0.85"/>
<circle cx="395.2" cy="246.4" r="0.63" fill="#164321"/>
<circle cx="401.2" cy="250.0" r="2.07" fill="#40c060" opacity="0.85"/>
<circle cx="401.4" cy="250.2" r="0.63" fill="#164321"/>
<circle cx="396.2" cy="255.0" r="2.07" fill="#40c060" opacity="0.85"/>
<circle cx="396.4" cy="255.2" r="0.63" fill="#164321"/>
<circle cx="410.0" cy="214.0" r="2.07" fill="#3030e0" opacity="0.85"/>
<circle cx="410.2" cy="214.2" r="0.63" fill="#10104e"/>
<circle cx="428.0" cy="237.0" r="2.07" fill="#3030e0" opacity="0.85"/>
<circle cx="428.2" cy="237.2" r="0.63" fill="#10104e"/>
<line x1="381.2" y1="257.0" x2="381.2" y2="267.5" stroke="#111" stroke-width="1.2" opacity="1"/>
<path d="M379.2,257.5 L381.2,254.5 L383.2,257.5 Z" fill="#111"/>
<line x1="434" y1="241.5" x2="448.5" y2="269.5" stroke="#111" stroke-width="1.1" opacity="1"/>
<path d="M434.0,241.5 L433.9,245.2 L437.1,243.5 Z" fill="#111"/>
<text x="368.8" y="279.0" font-size="8.5" font-weight="bold" fill="#111" font-family='"Liberation Serif", serif' text-anchor="start" textLength="23.7" lengthAdjust="spacingAndGlyphs" stroke="#111" stroke-width="0.3">Actin-</text>
<text x="360.0" y="288.8" font-size="8.5" font-weight="bold" fill="#111" font-family='"Liberation Serif", serif' text-anchor="start" textLength="37.5" lengthAdjust="spacingAndGlyphs" stroke="#111" stroke-width="0.3">disrupting</text>
<text x="367.5" y="298.6" font-size="8.5" font-weight="bold" fill="#111" font-family='"Liberation Serif", serif' text-anchor="start" textLength="22.5" lengthAdjust="spacingAndGlyphs" stroke="#111" stroke-width="0.3">agents</text>
<text x="425.5" y="279.0" font-size="8.5" font-weight="bold" fill="#111" font-family='"Liberation Serif", serif' text-anchor="start" textLength="49.0" lengthAdjust="spacingAndGlyphs" stroke="#111" stroke-width="0.3">Microtubule-</text>
<text x="417.0" y="288.8" font-size="8.5" font-weight="bold" fill="#111" font-family='"Liberation Serif", serif' text-anchor="start" textLength="64.0" lengthAdjust="spacingAndGlyphs" stroke="#111" stroke-width="0.3">disrupting agents</text>
<text x="30.6" y="329.9" font-size="12.3" font-weight="bold" fill="#000" font-family='"Liberation Sans", sans-serif' text-anchor="start" stroke="#000" stroke-width="0.5">C</text>
<text x="60.0" y="326.2" font-size="8.5" font-weight="bold" fill="#111" font-family='"Liberation Serif", serif' text-anchor="start" textLength="209.2" lengthAdjust="spacingAndGlyphs" stroke="#111" stroke-width="0.3">Further discrimination of microtubule-disrupting agents</text>
<text x="41.3" y="340.6" font-size="8.3" font-weight="bold" fill="#111" font-family='"Liberation Serif", serif' text-anchor="start" textLength="120.2" lengthAdjust="spacingAndGlyphs" stroke="#111" stroke-width="0.3">PC1: 63.74% PC2:29.85% PC6:6.4%</text>
<text x="174.5" y="340.6" font-size="8.3" font-weight="bold" fill="#111" font-family='"Liberation Serif", serif' text-anchor="start" textLength="118.5" lengthAdjust="spacingAndGlyphs" stroke="#111" stroke-width="0.3">PC1: 58.9% PC2:27.6% PC3: 13.5%</text>
<line x1="66.8" y1="349.5" x2="65.4" y2="420.5" stroke="#f3f3f3" stroke-width="0.6"/>
<line x1="81.5" y1="349.5" x2="78.8" y2="420.5" stroke="#f3f3f3" stroke-width="0.6"/>
<line x1="96.3" y1="349.5" x2="97.5" y2="420.5" stroke="#f3f3f3" stroke-width="0.6"/>
<line x1="111.1" y1="349.5" x2="107.7" y2="420.5" stroke="#f3f3f3" stroke-width="0.6"/>
<line x1="125.8" y1="349.5" x2="126.1" y2="420.5" stroke="#f3f3f3" stroke-width="0.6"/>
<line x1="140.6" y1="349.5" x2="139.5" y2="420.5" stroke="#f3f3f3" stroke-width="0.6"/>
<line x1="62.4" y1="354.2" x2="145" y2="348.0" stroke="#f3f3f3" stroke-width="0.6"/>
<line x1="62.4" y1="369.6" x2="145" y2="369.7" stroke="#f3f3f3" stroke-width="0.6"/>
<line x1="62.4" y1="385.0" x2="145" y2="378.5" stroke="#f3f3f3" stroke-width="0.6"/>
<line x1="62.4" y1="400.4" x2="145" y2="399.5" stroke="#f3f3f3" stroke-width="0.6"/>
<line x1="62.4" y1="415.8" x2="145" y2="409.8" stroke="#f3f3f3" stroke-width="0.6"/>
<rect x="59.4" y="346.5" width="88.6" height="77.0" fill="none" stroke="#2b2b2b" stroke-width="1.3"/>
<line x1="99" y1="372" x2="114" y2="380" stroke="#f0b0b0" stroke-width="0.7" opacity="1"/>
<line x1="114" y1="380" x2="137" y2="395" stroke="#f0c0c0" stroke-width="0.7" opacity="1"/>
<line x1="99" y1="372" x2="101" y2="388" stroke="#c0c0f0" stroke-width="0.7" opacity="1"/>
<line x1="101" y1="388" x2="110" y2="400" stroke="#c0c0f0" stroke-width="0.7" opacity="1"/>
<line x1="76" y1="395" x2="97" y2="395" stroke="#f0c0e0" stroke-width="0.7" opacity="1"/>
<circle cx="101.5" cy="370.2" r="1.61" fill="#5050f0" opacity="0.85"/>
<circle cx="101.7" cy="370.4" r="0.77" fill="#1c1c54"/>
<circle cx="97.1" cy="372.0" r="1.61" fill="#3838e0" opacity="0.85"/>
<circle cx="97.3" cy="372.2" r="0.77" fill="#13134e"/>
<circle cx="100.1" cy="362.4" r="1.61" fill="#5050f0" opacity="0.85"/>
<circle cx="100.3" cy="362.6" r="0.77" fill="#1c1c54"/>
<circle cx="91.9" cy="365.0" r="1.61" fill="#4545e8" opacity="0.85"/>
<circle cx="92.1" cy="365.2" r="0.77" fill="#181851"/>
<circle cx="95.0" cy="369.1" r="1.61" fill="#4545e8" opacity="0.85"/>
<circle cx="95.2" cy="369.3" r="0.77" fill="#181851"/>
<circle cx="102.4" cy="370.2" r="1.61" fill="#4545e8" opacity="0.85"/>
<circle cx="102.6" cy="370.4" r="0.77" fill="#181851"/>
<circle cx="97.1" cy="362.8" r="1.61" fill="#5050f0" opacity="0.85"/>
<circle cx="97.3" cy="363.0" r="0.77" fill="#1c1c54"/>
<circle cx="99.0" cy="362.8" r="1.61" fill="#3838e0" opacity="0.85"/>
<circle cx="99.2" cy="363.0" r="0.77" fill="#13134e"/>
<circle cx="101.8" cy="366.6" r="1.61" fill="#3838e0" opacity="0.85"/>
<circle cx="102.0" cy="366.8" r="0.77" fill="#13134e"/>
<circle cx="96.6" cy="361.7" r="1.61" fill="#3838e0" opacity="0.85"/>
<circle cx="96.8" cy="361.9" r="0.77" fill="#13134e"/>
<circle cx="104.7" cy="366.8" r="1.61" fill="#4545e8" opacity="0.85"/>
<circle cx="104.9" cy="367.0" r="0.77" fill="#181851"/>
<circle cx="104.7" cy="371.2" r="1.61" fill="#3838e0" opacity="0.85"/>
<circle cx="104.9" cy="371.4" r="0.77" fill="#13134e"/>
<circle cx="101.8" cy="370.4" r="1.61" fill="#3838e0" opacity="0.85"/>
<circle cx="102.0" cy="370.6" r="0.77" fill="#13134e"/>
<circle cx="96.1" cy="366.2" r="1.61" fill="#4545e8" opacity="0.85"/>
<circle cx="96.3" cy="366.4" r="0.77" fill="#181851"/>
<circle cx="91.6" cy="367.1" r="1.61" fill="#4545e8" opacity="0.85"/>
<circle cx="91.8" cy="367.3" r="0.77" fill="#181851"/>
<circle cx="99.0" cy="363.9" r="1.61" fill="#5050f0" opacity="0.85"/>
<circle cx="99.2" cy="364.1" r="0.77" fill="#1c1c54"/>
<circle cx="98.7" cy="360.6" r="1.61" fill="#5050f0" opacity="0.85"/>
<circle cx="98.9" cy="360.8" r="0.77" fill="#1c1c54"/>
<circle cx="100.0" cy="365.9" r="1.61" fill="#5050f0" opacity="0.85"/>
<circle cx="100.2" cy="366.1" r="0.77" fill="#1c1c54"/>
<circle cx="91.5" cy="366.9" r="1.61" fill="#4545e8" opacity="0.85"/>
<circle cx="91.7" cy="367.1" r="0.77" fill="#181851"/>
<circle cx="97.3" cy="367.5" r="1.61" fill="#5050f0" opacity="0.85"/>
<circle cx="97.5" cy="367.7" r="0.77" fill="#1c1c54"/>
<circle cx="95.4" cy="367.6" r="1.61" fill="#3838e0" opacity="0.85"/>
<circle cx="95.6" cy="367.8" r="0.77" fill="#13134e"/>
<circle cx="95.2" cy="366.0" r="1.61" fill="#3838e0" opacity="0.85"/>
<circle cx="95.4" cy="366.2" r="0.77" fill="#13134e"/>
<circle cx="97.8" cy="366.5" r="1.61" fill="#4545e8" opacity="0.85"/>
<circle cx="98.0" cy="366.7" r="0.77" fill="#181851"/>
<circle cx="101.8" cy="370.3" r="1.61" fill="#3838e0" opacity="0.85"/>
<circle cx="102.0" cy="370.5" r="0.77" fill="#13134e"/>
<circle cx="99.9" cy="366.0" r="1.61" fill="#5050f0" opacity="0.85"/>
<circle cx="100.1" cy="366.2" r="0.77" fill="#1c1c54"/>
<circle cx="98.5" cy="363.7" r="1.61" fill="#5050f0" opacity="0.85"/>
<circle cx="98.7" cy="363.9" r="0.77" fill="#1c1c54"/>
<circle cx="94.1" cy="374.1" r="1.61" fill="#4545e8" opacity="0.85"/>
<circle cx="94.3" cy="374.3" r="0.77" fill="#181851"/>
<circle cx="99.5" cy="367.8" r="1.61" fill="#3838e0" opacity="0.85"/>
<circle cx="99.7" cy="368.0" r="0.77" fill="#13134e"/>
<circle cx="100.2" cy="363.5" r="1.61" fill="#5050f0" opacity="0.85"/>
<circle cx="100.4" cy="363.7" r="0.77" fill="#1c1c54"/>
<circle cx="101.1" cy="365.0" r="1.61" fill="#4545e8" opacity="0.85"/>
<circle cx="101.3" cy="365.2" r="0.77" fill="#181851"/>
<circle cx="104.9" cy="368.4" r="1.61" fill="#3838e0" opacity="0.85"/>
<circle cx="105.1" cy="368.6" r="0.77" fill="#13134e"/>
<circle cx="94.4" cy="369.4" r="1.61" fill="#5050f0" opacity="0.85"/>
<circle cx="94.6" cy="369.6" r="0.77" fill="#1c1c54"/>
<circle cx="93.0" cy="365.4" r="1.61" fill="#4545e8" opacity="0.85"/>
<circle cx="93.2" cy="365.6" r="0.77" fill="#181851"/>
<circle cx="89.0" cy="371.3" r="1.61" fill="#5050f0" opacity="0.85"/>
<circle cx="89.2" cy="371.5" r="0.77" fill="#1c1c54"/>
<circle cx="91.9" cy="362.4" r="1.61" fill="#3838e0" opacity="0.85"/>
<circle cx="92.1" cy="362.6" r="0.77" fill="#13134e"/>
<circle cx="92.9" cy="365.8" r="1.61" fill="#4545e8" opacity="0.85"/>
<circle cx="93.1" cy="366.0" r="0.77" fill="#181851"/>
<circle cx="99.3" cy="367.0" r="1.61" fill="#3838e0" opacity="0.85"/>
<circle cx="99.5" cy="367.2" r="0.77" fill="#13134e"/>
<circle cx="99.2" cy="362.4" r="1.61" fill="#3838e0" opacity="0.85"/>
<circle cx="99.4" cy="362.6" r="0.77" fill="#13134e"/>
<circle cx="101.3" cy="366.8" r="1.61" fill="#3838e0" opacity="0.85"/>
<circle cx="101.5" cy="367.0" r="0.77" fill="#13134e"/>
<circle cx="101.3" cy="366.5" r="1.61" fill="#3838e0" opacity="0.85"/>
<circle cx="101.5" cy="366.7" r="0.77" fill="#13134e"/>
<circle cx="101.6" cy="367.2" r="1.61" fill="#4545e8" opacity="0.85"/>
<circle cx="101.8" cy="367.4" r="0.77" fill="#181851"/>
<circle cx="104.8" cy="365.5" r="1.61" fill="#3838e0" opacity="0.85"/>
<circle cx="105.0" cy="365.7" r="0.77" fill="#13134e"/>
<circle cx="100.5" cy="366.5" r="1.61" fill="#5050f0" opacity="0.85"/>
<circle cx="100.7" cy="366.7" r="0.77" fill="#1c1c54"/>
<circle cx="92.4" cy="365.2" r="1.61" fill="#4545e8" opacity="0.85"/>
<circle cx="92.6" cy="365.4" r="0.77" fill="#181851"/>
<circle cx="106.3" cy="364.0" r="1.61" fill="#3838e0" opacity="0.85"/>
<circle cx="106.5" cy="364.2" r="0.77" fill="#13134e"/>
<circle cx="89.1" cy="358.0" r="1.72" fill="#b0d030" opacity="0.85"/>
<circle cx="89.3" cy="358.2" r="0.83" fill="#3d4810"/>
<circle cx="98.7" cy="377.0" r="1.72" fill="#3340e0" opacity="0.85"/>
<circle cx="98.9" cy="377.2" r="0.83" fill="#11164e"/>
<circle cx="102.1" cy="384.8" r="1.72" fill="#3340e0" opacity="0.85"/>
<circle cx="102.3" cy="385.0" r="0.83" fill="#11164e"/>
<circle cx="100.4" cy="388.3" r="1.72" fill="#6a3ae0" opacity="0.85"/>
<circle cx="100.6" cy="388.5" r="0.83" fill="#25144e"/>
<circle cx="110.8" cy="394.3" r="1.72" fill="#3340e0" opacity="0.85"/>
<circle cx="111.0" cy="394.5" r="0.83" fill="#11164e"/>
<circle cx="113.4" cy="398.6" r="1.72" fill="#3340e0" opacity="0.85"/>
<circle cx="113.6" cy="398.8" r="0.83" fill="#11164e"/>
<circle cx="108.2" cy="400.4" r="1.72" fill="#3340e0" opacity="0.85"/>
<circle cx="108.4" cy="400.6" r="0.83" fill="#11164e"/>
<circle cx="109.9" cy="403.0" r="1.72" fill="#3340e0" opacity="0.85"/>
<circle cx="110.1" cy="403.2" r="0.83" fill="#11164e"/>
<circle cx="104.7" cy="408.1" r="1.72" fill="#3340e0" opacity="0.85"/>
<circle cx="104.9" cy="408.3" r="0.83" fill="#11164e"/>
<circle cx="114.2" cy="380.5" r="1.72" fill="#902020" opacity="0.85"/>
<circle cx="114.4" cy="380.7" r="0.83" fill="#320b0b"/>
<circle cx="115.1" cy="384.8" r="1.72" fill="#15301a" opacity="0.85"/>
<circle cx="115.3" cy="385.0" r="0.83" fill="#071009"/>
<circle cx="117.7" cy="387.4" r="1.72" fill="#b0d030" opacity="0.85"/>
<circle cx="117.9" cy="387.6" r="0.83" fill="#3d4810"/>
<circle cx="119.4" cy="384.8" r="1.72" fill="#80d0e0" opacity="0.85"/>
<circle cx="119.6" cy="385.0" r="0.83" fill="#2c484e"/>
<circle cx="123.7" cy="391.7" r="1.72" fill="#60b0c0" opacity="0.85"/>
<circle cx="123.9" cy="391.9" r="0.83" fill="#213d43"/>
<circle cx="130.7" cy="390.8" r="1.72" fill="#15301a" opacity="0.85"/>
<circle cx="130.9" cy="391.0" r="0.83" fill="#071009"/>
<circle cx="132.4" cy="393.4" r="1.72" fill="#15301a" opacity="0.85"/>
<circle cx="132.6" cy="393.6" r="0.83" fill="#071009"/>
<circle cx="137.6" cy="395.2" r="1.72" fill="#e03030" opacity="0.85"/>
<circle cx="137.8" cy="395.4" r="0.83" fill="#4e1010"/>
<circle cx="134.1" cy="395.2" r="1.72" fill="#d03030" opacity="0.85"/>
<circle cx="134.3" cy="395.4" r="0.83" fill="#481010"/>
<circle cx="136.7" cy="397.0" r="1.72" fill="#15301a" opacity="0.85"/>
<circle cx="136.9" cy="397.2" r="0.83" fill="#071009"/>
<circle cx="76.2" cy="390.0" r="1.72" fill="#e8d030" opacity="0.85"/>
<circle cx="76.4" cy="390.2" r="0.83" fill="#514810"/>
<circle cx="78.8" cy="391.7" r="1.72" fill="#6a3ae0" opacity="0.85"/>
<circle cx="79.0" cy="391.9" r="0.83" fill="#25144e"/>
<circle cx="73.6" cy="394.3" r="1.72" fill="#6a3ae0" opacity="0.85"/>
<circle cx="73.8" cy="394.5" r="0.83" fill="#25144e"/>
<circle cx="89.1" cy="387.4" r="1.72" fill="#e08a30" opacity="0.85"/>
<circle cx="89.3" cy="387.6" r="0.83" fill="#4e3010"/>
<circle cx="90.0" cy="390.8" r="1.72" fill="#e08a30" opacity="0.85"/>
<circle cx="90.2" cy="391.0" r="0.83" fill="#4e3010"/>
<circle cx="88.3" cy="393.4" r="1.72" fill="#d040d0" opacity="0.85"/>
<circle cx="88.5" cy="393.6" r="0.83" fill="#481648"/>
<circle cx="83.1" cy="394.3" r="1.72" fill="#50e040" opacity="0.85"/>
<circle cx="83.3" cy="394.5" r="0.83" fill="#1c4e16"/>
<circle cx="80.5" cy="396.9" r="1.72" fill="#50e040" opacity="0.85"/>
<circle cx="80.7" cy="397.1" r="0.83" fill="#1c4e16"/>
<circle cx="85.7" cy="396.9" r="1.72" fill="#15301a" opacity="0.85"/>
<circle cx="85.9" cy="397.1" r="0.83" fill="#071009"/>
<circle cx="90.9" cy="396.0" r="1.72" fill="#e08a30" opacity="0.85"/>
<circle cx="91.1" cy="396.2" r="0.83" fill="#4e3010"/>
<circle cx="94.3" cy="396.0" r="1.72" fill="#6a3ae0" opacity="0.85"/>
<circle cx="94.5" cy="396.2" r="0.83" fill="#25144e"/>
<circle cx="96.9" cy="395.2" r="1.72" fill="#6a3ae0" opacity="0.85"/>
<circle cx="97.1" cy="395.4" r="0.83" fill="#25144e"/>
<circle cx="71.0" cy="399.5" r="1.72" fill="#15301a" opacity="0.85"/>
<circle cx="71.2" cy="399.7" r="0.83" fill="#071009"/>
<circle cx="73.6" cy="401.2" r="1.72" fill="#6a3ae0" opacity="0.85"/>
<circle cx="73.8" cy="401.4" r="0.83" fill="#25144e"/>
<circle cx="79.6" cy="398.6" r="1.72" fill="#50e040" opacity="0.85"/>
<circle cx="79.8" cy="398.8" r="0.83" fill="#1c4e16"/>
<circle cx="84.8" cy="401.2" r="1.72" fill="#15301a" opacity="0.85"/>
<circle cx="85.0" cy="401.4" r="0.83" fill="#071009"/>
<circle cx="87.0" cy="392.0" r="1.72" fill="#e08a30" opacity="0.85"/>
<circle cx="87.2" cy="392.2" r="0.83" fill="#4e3010"/>
<circle cx="92.0" cy="394.0" r="1.72" fill="#d040d0" opacity="0.85"/>
<circle cx="92.2" cy="394.2" r="0.83" fill="#481648"/>
<rect x="63.6" y="429.7" width="7.4" height="3.4" rx="0.7" fill="#f0e860" stroke="#333" stroke-width="0.8"/>
<text x="71.8" y="433.3" font-size="6.2" font-weight="bold" fill="#111" font-family='"Liberation Serif", serif' text-anchor="start" textLength="25.0" lengthAdjust="spacingAndGlyphs" stroke="#111" stroke-width="0.3">Colchicine</text>
<rect x="63.6" y="436.5" width="7.4" height="3.4" rx="0.7" fill="#e040e0" stroke="#333" stroke-width="0.8"/>
<text x="71.8" y="440.3" font-size="6.2" font-weight="bold" fill="#111" font-family='"Liberation Serif", serif' text-anchor="start" textLength="27.1" lengthAdjust="spacingAndGlyphs" stroke="#111" stroke-width="0.3">Nocodazole</text>
<rect x="63.6" y="443.4" width="7.4" height="3.4" rx="0.7" fill="#1a6a1a" stroke="#333" stroke-width="0.8"/>
<text x="71.8" y="447.3" font-size="6.2" font-weight="bold" fill="#111" font-family='"Liberation Serif", serif' text-anchor="start" textLength="26.6" lengthAdjust="spacingAndGlyphs" stroke="#111" stroke-width="0.3">Vinblastine</text>
<rect x="63.6" y="450.6" width="7.4" height="3.4" rx="0.7" fill="#8a2a20" stroke="#333" stroke-width="0.8"/>
<text x="71.8" y="454.6" font-size="6.2" font-weight="bold" fill="#111" font-family='"Liberation Serif", serif' text-anchor="start" textLength="26.1" lengthAdjust="spacingAndGlyphs" stroke="#111" stroke-width="0.3">Vincristine</text>
<rect x="101.7" y="429.7" width="7.4" height="3.4" rx="0.7" fill="#a8d8f0" stroke="#333" stroke-width="0.8"/>
<text x="109.8" y="433.3" font-size="6.2" font-weight="bold" fill="#111" font-family='"Liberation Serif", serif' text-anchor="start" textLength="13.1" lengthAdjust="spacingAndGlyphs" stroke="#111" stroke-width="0.3">Taxol</text>
<rect x="101.7" y="436.5" width="7.4" height="3.4" rx="0.7" fill="#e08a40" stroke="#333" stroke-width="0.8"/>
<text x="109.8" y="440.3" font-size="6.2" font-weight="bold" fill="#111" font-family='"Liberation Serif", serif' text-anchor="start" textLength="30.2" lengthAdjust="spacingAndGlyphs" stroke="#111" stroke-width="0.3">EpothiloneB</text>
<rect x="101.7" y="443.4" width="7.4" height="3.4" rx="0.7" fill="#70e050" stroke="#333" stroke-width="0.8"/>
<text x="109.8" y="447.3" font-size="6.2" font-weight="bold" fill="#111" font-family='"Liberation Serif", serif' text-anchor="start" textLength="25.0" lengthAdjust="spacingAndGlyphs" stroke="#111" stroke-width="0.3">Monastrol</text>
<rect x="101.7" y="450.6" width="7.4" height="3.4" rx="0.7" fill="#2030e0" stroke="#333" stroke-width="0.8"/>
<text x="109.8" y="454.6" font-size="6.2" font-weight="bold" fill="#111" font-family='"Liberation Serif", serif' text-anchor="start" textLength="22.9" lengthAdjust="spacingAndGlyphs" stroke="#111" stroke-width="0.3">Docetaxel</text>
<line x1="191.8" y1="349.5" x2="189.6" y2="421" stroke="#f3f3f3" stroke-width="0.6"/>
<line x1="206.3" y1="349.5" x2="210.0" y2="421" stroke="#f3f3f3" stroke-width="0.6"/>
<line x1="220.9" y1="349.5" x2="217.9" y2="421" stroke="#f3f3f3" stroke-width="0.6"/>
<line x1="235.5" y1="349.5" x2="237.1" y2="421" stroke="#f3f3f3" stroke-width="0.6"/>
<line x1="250.0" y1="349.5" x2="246.7" y2="421" stroke="#f3f3f3" stroke-width="0.6"/>
<line x1="264.6" y1="349.5" x2="262.6" y2="421" stroke="#f3f3f3" stroke-width="0.6"/>
<line x1="187.5" y1="354.2" x2="268.9" y2="361.2" stroke="#f3f3f3" stroke-width="0.6"/>
<line x1="187.5" y1="369.8" x2="268.9" y2="365.7" stroke="#f3f3f3" stroke-width="0.6"/>
<line x1="187.5" y1="385.2" x2="268.9" y2="387.2" stroke="#f3f3f3" stroke-width="0.6"/>
<line x1="187.5" y1="400.8" x2="268.9" y2="400.2" stroke="#f3f3f3" stroke-width="0.6"/>
<line x1="187.5" y1="416.2" x2="268.9" y2="415.6" stroke="#f3f3f3" stroke-width="0.6"/>
<rect x="184.5" y="346.5" width="87.4" height="77.5" fill="none" stroke="#2b2b2b" stroke-width="1.3"/>
<line x1="228.7" y1="390" x2="264.4" y2="397.1" stroke="#f8d0c8" stroke-width="0.7" opacity="1"/>
<line x1="228.7" y1="366.7" x2="228.7" y2="390" stroke="#f8e0e0" stroke-width="0.7" opacity="1"/>
<line x1="206" y1="390" x2="228.7" y2="390" stroke="#ececec" stroke-width="0.7" opacity="1"/>
<line x1="232" y1="360" x2="254" y2="386" stroke="#ececec" stroke-width="0.7" opacity="1"/>
<line x1="206" y1="356" x2="206" y2="405" stroke="#f0f0f0" stroke-width="0.7" opacity="1"/>
<line x1="200" y1="405" x2="262" y2="420" stroke="#f0f0f0" stroke-width="0.7" opacity="1"/>
<rect x="227.2" y="388.5" width="3.0" height="3.0" rx="0.6" fill="#e85838" stroke="#602010" stroke-width="0.4"/>
<rect x="241.7" y="392.6" width="3.0" height="3.0" rx="0.6" fill="#e85838" stroke="#602010" stroke-width="0.4"/>
<rect x="253.2" y="389.4" width="3.0" height="3.0" rx="0.6" fill="#e85838" stroke="#602010" stroke-width="0.4"/>
<rect x="256.7" y="391.2" width="3.0" height="3.0" rx="0.6" fill="#e85838" stroke="#602010" stroke-width="0.4"/>
<rect x="262.9" y="395.6" width="3.0" height="3.0" rx="0.6" fill="#e85838" stroke="#602010" stroke-width="0.4"/>
<rect x="227.5" y="365.5" width="2.4" height="2.4" rx="0.6" fill="#e05838" stroke="#602010" stroke-width="0.4"/>
<rect x="223.1" y="359.3" width="3.0" height="3.0" rx="0.6" fill="#2830e0" stroke="#101060" stroke-width="0.4"/>
<rect x="228.4" y="356.7" width="3.0" height="3.0" rx="0.6" fill="#2830e0" stroke="#101060" stroke-width="0.4"/>
<rect x="231.1" y="358.4" width="3.0" height="3.0" rx="0.6" fill="#2830e0" stroke="#101060" stroke-width="0.4"/>
<rect x="222.6" y="367.3" width="3.0" height="3.0" rx="0.6" fill="#2830e0" stroke="#101060" stroke-width="0.4"/>
<rect x="253.2" y="385.0" width="3.0" height="3.0" rx="0.6" fill="#2830e0" stroke="#101060" stroke-width="0.4"/>
<rect x="229.5" y="359.5" width="2.6" height="2.6" rx="0.6" fill="#2020a0" stroke="#101040" stroke-width="0.4"/>
<rect x="225.5" y="361.7" width="1.8" height="1.8" rx="0.6" fill="#50c0e0" stroke="#203040" stroke-width="0.4"/>
<rect x="226.3" y="371.1" width="1.8" height="1.8" rx="0.6" fill="#305070" stroke="#203040" stroke-width="0.4"/>
<rect x="221.0" y="372.3" width="1.8" height="1.8" rx="0.6" fill="#40a0c0" stroke="#203040" stroke-width="0.4"/>
<rect x="209.5" y="382.4" width="1.8" height="1.8" rx="0.6" fill="#407080" stroke="#203040" stroke-width="0.4"/>
<rect x="205.1" y="389.5" width="1.8" height="1.8" rx="0.6" fill="#405060" stroke="#203040" stroke-width="0.4"/>
<rect x="205.1" y="396.2" width="1.8" height="1.8" rx="0.6" fill="#405060" stroke="#203040" stroke-width="0.4"/>
<rect x="193.1" y="400.1" width="1.8" height="1.8" fill="#70d0e8" stroke="#3080a0" stroke-width="0.35"/>
<rect x="195.1" y="398.1" width="1.8" height="1.8" fill="#70d0e8" stroke="#3080a0" stroke-width="0.35"/>
<rect x="197.1" y="397.1" width="1.8" height="1.8" fill="#70d0e8" stroke="#3080a0" stroke-width="0.35"/>
<rect x="196.1" y="401.1" width="1.8" height="1.8" fill="#70d0e8" stroke="#3080a0" stroke-width="0.35"/>
<rect x="198.1" y="402.1" width="1.8" height="1.8" fill="#70d0e8" stroke="#3080a0" stroke-width="0.35"/>
<rect x="194.1" y="403.1" width="1.8" height="1.8" fill="#70d0e8" stroke="#3080a0" stroke-width="0.35"/>
<rect x="199.1" y="399.1" width="1.8" height="1.8" fill="#70d0e8" stroke="#3080a0" stroke-width="0.35"/>
<rect x="192.6" y="402.1" width="1.8" height="1.8" fill="#70d0e8" stroke="#3080a0" stroke-width="0.35"/>
<rect x="196.6" y="404.1" width="1.8" height="1.8" fill="#70d0e8" stroke="#3080a0" stroke-width="0.35"/>
<rect x="186.7" y="430.0" width="7.7" height="3.5" rx="0.7" fill="#a8d8f0" stroke="#333" stroke-width="0.8"/>
<text x="195.4" y="433.8" font-size="6.3" font-weight="bold" fill="#111" font-family='"Liberation Serif", serif' text-anchor="start" textLength="13.4" lengthAdjust="spacingAndGlyphs" stroke="#111" stroke-width="0.3">Taxol</text>
<rect x="186.7" y="437.3" width="7.7" height="3.5" rx="0.7" fill="#f0f8f8" stroke="#333" stroke-width="0.8"/>
<text x="195.4" y="441.1" font-size="6.3" font-weight="bold" fill="#111" font-family='"Liberation Serif", serif' text-anchor="start" textLength="31.6" lengthAdjust="spacingAndGlyphs" stroke="#111" stroke-width="0.3">Epothilone B</text>
<rect x="235.8" y="430.0" width="7.7" height="3.5" rx="0.7" fill="#2830e0" stroke="#333" stroke-width="0.8"/>
<text x="245.4" y="433.8" font-size="6.3" font-weight="bold" fill="#111" font-family='"Liberation Serif", serif' text-anchor="start" textLength="25.4" lengthAdjust="spacingAndGlyphs" stroke="#111" stroke-width="0.3">Colchicine</text>
<rect x="235.8" y="437.3" width="7.7" height="3.5" rx="0.7" fill="#e09020" stroke="#333" stroke-width="0.8"/>
<text x="245.4" y="441.1" font-size="6.3" font-weight="bold" fill="#111" font-family='"Liberation Serif", serif' text-anchor="start" textLength="27.2" lengthAdjust="spacingAndGlyphs" stroke="#111" stroke-width="0.3">Nocodazole</text>
<text x="336.6" y="329.9" font-size="12.3" font-weight="bold" fill="#000" font-family='"Liberation Sans", sans-serif' text-anchor="start" stroke="#000" stroke-width="0.5">D</text>
<text x="366.9" y="326.2" font-size="8.5" font-weight="bold" fill="#111" font-family='"Liberation Serif", serif' text-anchor="start" textLength="81.8" lengthAdjust="spacingAndGlyphs" stroke="#111" stroke-width="0.3">Epithelial morphology</text>
<text x="346.7" y="341.8" font-size="8.3" font-weight="bold" fill="#111" font-family='"Liberation Serif", serif' text-anchor="start" textLength="118.7" lengthAdjust="spacingAndGlyphs" stroke="#111" stroke-width="0.3">PC1: 58.9% PC2:27.6% PC3: 13.5%</text>
<line x1="367.5" y1="350" x2="367.2" y2="422.4" stroke="#f3f3f3" stroke-width="0.6"/>
<line x1="382.8" y1="350" x2="381.8" y2="422.4" stroke="#f3f3f3" stroke-width="0.6"/>
<line x1="398.1" y1="350" x2="395.2" y2="422.4" stroke="#f3f3f3" stroke-width="0.6"/>
<line x1="413.4" y1="350" x2="416.3" y2="422.4" stroke="#f3f3f3" stroke-width="0.6"/>
<line x1="428.7" y1="350" x2="424.7" y2="422.4" stroke="#f3f3f3" stroke-width="0.6"/>
<line x1="444.0" y1="350" x2="444.0" y2="422.4" stroke="#f3f3f3" stroke-width="0.6"/>
<line x1="362.9" y1="354.8" x2="448.6" y2="360.4" stroke="#f3f3f3" stroke-width="0.6"/>
<line x1="362.9" y1="370.5" x2="448.6" y2="364.7" stroke="#f3f3f3" stroke-width="0.6"/>
<line x1="362.9" y1="386.2" x2="448.6" y2="387.0" stroke="#f3f3f3" stroke-width="0.6"/>
<line x1="362.9" y1="401.9" x2="448.6" y2="403.5" stroke="#f3f3f3" stroke-width="0.6"/>
<line x1="362.9" y1="417.6" x2="448.6" y2="411.1" stroke="#f3f3f3" stroke-width="0.6"/>
<rect x="359.9" y="347.1" width="91.7" height="78.3" fill="none" stroke="#2b2b2b" stroke-width="1.3"/>
<line x1="395.3" y1="352" x2="395.3" y2="415" stroke="#c8c8c8" stroke-width="0.8" opacity="1"/>
<path d="M393.6,352.6 L395.3,349.5 L397,352.6 Z" fill="#888"/>
<line x1="388.8" y1="407.6" x2="397" y2="386" stroke="#5a70e0" stroke-width="0.8" opacity="1"/>
<ellipse cx="377" cy="378.5" rx="2.8" ry="1.4" fill="#1a22c8" stroke="#101070" stroke-width="0.35"/>
<ellipse cx="380.5" cy="379.3" rx="2.8" ry="1.4" fill="#1a22c8" stroke="#101070" stroke-width="0.35"/>
<ellipse cx="384" cy="380.5" rx="2.8" ry="1.4" fill="#2030d0" stroke="#101070" stroke-width="0.35"/>
<ellipse cx="387.5" cy="381.8" rx="2.8" ry="1.4" fill="#2535d8" stroke="#101070" stroke-width="0.35"/>
<ellipse cx="391" cy="383" rx="2.8" ry="1.4" fill="#2a3ae0" stroke="#101070" stroke-width="0.35"/>
<ellipse cx="394.5" cy="383.8" rx="2.8" ry="1.4" fill="#2a3ae0" stroke="#101070" stroke-width="0.35"/>
<ellipse cx="398" cy="384.3" rx="2.8" ry="1.4" fill="#3040e0" stroke="#101070" stroke-width="0.35"/>
<ellipse cx="388" cy="378.6" rx="2.6" ry="1.4" fill="#2030d0" stroke="#101070" stroke-width="0.35"/>
<ellipse cx="404.3" cy="378.6" rx="2.6" ry="1.4" fill="#2535d8" stroke="#101070" stroke-width="0.35"/>
<ellipse cx="392" cy="381" rx="2.6" ry="1.4" fill="#2a3ae0" stroke="#101070" stroke-width="0.35"/>
<ellipse cx="385" cy="383.8" rx="2.6" ry="1.4" fill="#2030d0" stroke="#101070" stroke-width="0.35"/>
<ellipse cx="396" cy="386" rx="2.4" ry="1.4" fill="#3040e8" stroke="#101070" stroke-width="0.35"/>
<ellipse cx="400.5" cy="385.5" rx="2.4" ry="1.4" fill="#3040e8" stroke="#101070" stroke-width="0.35"/>
<ellipse cx="382" cy="377.8" rx="2.4" ry="1.4" fill="#1a22c8" stroke="#101070" stroke-width="0.35"/>
<ellipse cx="388.8" cy="407.6" rx="3.0" ry="1.4" fill="#3040f0" stroke="#1a1a80" stroke-width="0.4"/>
<ellipse cx="406.9" cy="371.8" rx="2.0" ry="1.0" fill="#3a4510" stroke="#a8b838" stroke-width="0.5"/>
<ellipse cx="413.3" cy="371.4" rx="2.0" ry="1.0" fill="#3a4510" stroke="#a8b838" stroke-width="0.5"/>
<ellipse cx="416.2" cy="372.8" rx="2.0" ry="1.0" fill="#3a4510" stroke="#a8b838" stroke-width="0.5"/>
<ellipse cx="421.2" cy="368" rx="2.0" ry="1.0" fill="#3a4510" stroke="#a8b838" stroke-width="0.5"/>
<ellipse cx="419.8" cy="375" rx="2.0" ry="1.0" fill="#3a4510" stroke="#a8b838" stroke-width="0.5"/>
<ellipse cx="415.5" cy="375.7" rx="2.0" ry="1.0" fill="#3a4510" stroke="#a8b838" stroke-width="0.5"/>
<rect x="437.9" y="375.9" width="2.8" height="2.8" fill="#5a6a10" stroke="#b0c040" stroke-width="0.5" transform="rotate(-20 439.3 377.3)"/>
<ellipse cx="403.7" cy="388" rx="1.3" ry="0.9" fill="#1a1a10" transform="rotate(-40 403.7 388)"/>
<ellipse cx="400.9" cy="389.8" rx="1.3" ry="0.9" fill="#1a1a10" transform="rotate(-40 400.9 389.8)"/>
<ellipse cx="403.3" cy="394.9" rx="1.3" ry="0.9" fill="#1a1a10" transform="rotate(-40 403.3 394.9)"/>
<ellipse cx="402.4" cy="402" rx="1.3" ry="0.9" fill="#1a1a10" transform="rotate(-40 402.4 402)"/>
<ellipse cx="402.8" cy="411.3" rx="1.3" ry="0.9" fill="#1a1a10" transform="rotate(-40 402.8 411.3)"/>
<rect x="369.2" y="433.0" width="7.6" height="3.4" rx="0.7" fill="#1a2ab0" stroke="#333" stroke-width="0.8"/>
<text x="377.7" y="436.7" font-size="6.3" font-weight="bold" fill="#111" font-family='"Liberation Serif", serif' text-anchor="start" textLength="19.6" lengthAdjust="spacingAndGlyphs" stroke="#111" stroke-width="0.3">Y27632</text>
<rect x="369.2" y="440.6" width="7.6" height="3.4" rx="0.7" fill="#2050e0" stroke="#333" stroke-width="0.8"/>
<text x="377.7" y="444.3" font-size="6.3" font-weight="bold" fill="#111" font-family='"Liberation Serif", serif' text-anchor="start" textLength="21.0" lengthAdjust="spacingAndGlyphs" stroke="#111" stroke-width="0.3">AG 1478</text>
<rect x="418.0" y="433.0" width="7.6" height="3.4" rx="0.7" fill="#5a7a2a" stroke="#333" stroke-width="0.8"/>
<text x="427.8" y="436.7" font-size="6.3" font-weight="bold" fill="#111" font-family='"Liberation Serif", serif' text-anchor="start" textLength="32.6" lengthAdjust="spacingAndGlyphs" stroke="#111" stroke-width="0.3">Valproic acid</text>
<rect x="418.0" y="440.6" width="7.6" height="3.4" rx="0.7" fill="#f4f4d0" stroke="#333" stroke-width="0.8"/>
<text x="427.8" y="444.3" font-size="6.3" font-weight="bold" fill="#111" font-family='"Liberation Serif", serif' text-anchor="start" textLength="9.6" lengthAdjust="spacingAndGlyphs" stroke="#111" stroke-width="0.3">PP2</text>
</svg></body></html>
